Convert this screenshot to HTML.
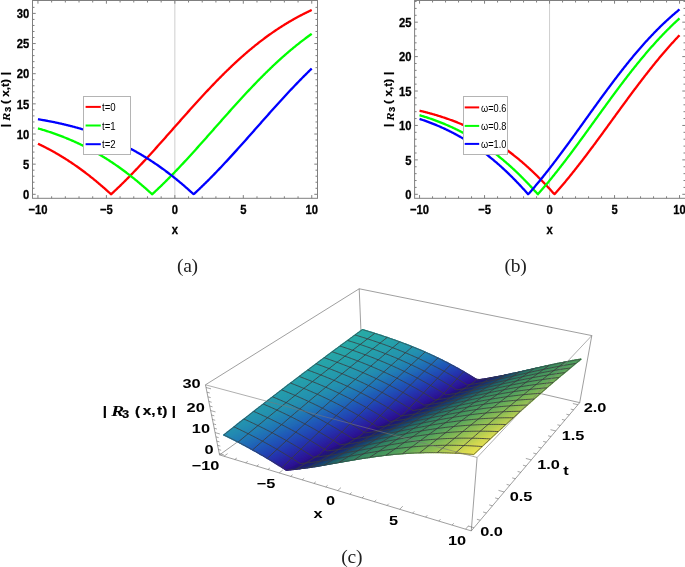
<!DOCTYPE html>
<html lang="en"><head><meta charset="utf-8"><title>Figure</title>
<style>html,body{margin:0;padding:0;background:#fff}body{width:685px;height:567px;overflow:hidden}</style></head>
<body>
<svg width="685" height="567" viewBox="0 0 685 567" style="display:block">
<rect width="685" height="567" fill="#fff"/>
<clipPath id="aclip"><rect x="32.50" y="0.50" width="285.00" height="197.80"/></clipPath>
<line x1="174.85" y1="0.50" x2="174.85" y2="198.30" stroke="#cfcfcf" stroke-width="1"/>
<path d="M37.95 143.73 L38.63 144.06 L39.32 144.38 L40.00 144.71 L40.69 145.04 L41.37 145.38 L42.06 145.72 L42.74 146.06 L43.43 146.40 L44.11 146.74 L44.79 147.09 L45.48 147.44 L46.16 147.79 L46.85 148.15 L47.53 148.51 L48.22 148.87 L48.90 149.23 L49.59 149.59 L50.27 149.96 L50.96 150.33 L51.64 150.71 L52.32 151.09 L53.01 151.46 L53.69 151.85 L54.38 152.23 L55.06 152.62 L55.75 153.01 L56.43 153.40 L57.12 153.80 L57.80 154.20 L58.48 154.60 L59.17 155.00 L59.85 155.41 L60.54 155.82 L61.22 156.24 L61.91 156.65 L62.59 157.07 L63.28 157.49 L63.96 157.92 L64.65 158.34 L65.33 158.77 L66.01 159.21 L66.70 159.64 L67.38 160.08 L68.07 160.53 L68.75 160.97 L69.44 161.42 L70.12 161.87 L70.81 162.32 L71.49 162.78 L72.17 163.24 L72.86 163.70 L73.54 164.17 L74.23 164.64 L74.91 165.11 L75.60 165.58 L76.28 166.06 L76.97 166.54 L77.65 167.02 L78.34 167.51 L79.02 168.00 L79.70 168.49 L80.39 168.99 L81.07 169.49 L81.76 169.99 L82.44 170.49 L83.13 171.00 L83.81 171.51 L84.50 172.03 L85.18 172.54 L85.86 173.06 L86.55 173.59 L87.23 174.11 L87.92 174.64 L88.60 175.17 L89.29 175.71 L89.97 176.25 L90.66 176.79 L91.34 177.33 L92.03 177.88 L92.71 178.43 L93.39 178.98 L94.08 179.54 L94.76 180.10 L95.45 180.66 L96.13 181.22 L96.82 181.79 L97.50 182.36 L98.19 182.93 L98.87 183.51 L99.55 184.09 L100.24 184.67 L100.92 185.26 L101.61 185.85 L102.29 186.44 L102.98 187.03 L103.66 187.63 L104.35 188.23 L105.03 188.83 L105.72 189.44 L106.40 190.05 L107.08 190.66 L107.77 191.27 L108.45 191.89 L109.14 192.51 L109.82 193.13 L110.51 193.76 L111.19 194.21 L111.88 193.58 L112.56 192.95 L113.25 192.31 L113.93 191.67 L114.61 191.03 L115.30 190.38 L115.98 189.74 L116.67 189.09 L117.35 188.43 L118.04 187.78 L118.72 187.12 L119.41 186.46 L120.09 185.80 L120.77 185.13 L121.46 184.46 L122.14 183.79 L122.83 183.12 L123.51 182.44 L124.20 181.77 L124.88 181.09 L125.57 180.40 L126.25 179.72 L126.94 179.03 L127.62 178.34 L128.30 177.65 L128.99 176.95 L129.67 176.26 L130.36 175.56 L131.04 174.86 L131.73 174.15 L132.41 173.45 L133.10 172.74 L133.78 172.03 L134.46 171.32 L135.15 170.61 L135.83 169.89 L136.52 169.17 L137.20 168.45 L137.89 167.73 L138.57 167.01 L139.26 166.28 L139.94 165.55 L140.62 164.82 L141.31 164.09 L141.99 163.36 L142.68 162.63 L143.36 161.89 L144.05 161.15 L144.73 160.41 L145.42 159.67 L146.10 158.93 L146.79 158.19 L147.47 157.44 L148.15 156.69 L148.84 155.95 L149.52 155.20 L150.21 154.44 L150.89 153.69 L151.58 152.94 L152.26 152.18 L152.95 151.43 L153.63 150.67 L154.31 149.91 L155.00 149.15 L155.68 148.39 L156.37 147.63 L157.05 146.87 L157.74 146.10 L158.42 145.34 L159.11 144.57 L159.79 143.81 L160.48 143.04 L161.16 142.27 L161.84 141.50 L162.53 140.73 L163.21 139.96 L163.90 139.19 L164.58 138.42 L165.27 137.65 L165.95 136.88 L166.64 136.10 L167.32 135.33 L168.00 134.56 L168.69 133.78 L169.37 133.01 L170.06 132.24 L170.74 131.46 L171.43 130.69 L172.11 129.91 L172.80 129.14 L173.48 128.36 L174.17 127.59 L174.85 126.81 L175.53 126.04 L176.22 125.26 L176.90 124.49 L177.59 123.71 L178.27 122.94 L178.96 122.16 L179.64 121.39 L180.33 120.62 L181.01 119.84 L181.69 119.07 L182.38 118.30 L183.06 117.53 L183.75 116.75 L184.43 115.98 L185.12 115.21 L185.80 114.44 L186.49 113.67 L187.17 112.91 L187.86 112.14 L188.54 111.37 L189.22 110.61 L189.91 109.84 L190.59 109.08 L191.28 108.32 L191.96 107.55 L192.65 106.79 L193.33 106.03 L194.02 105.27 L194.70 104.52 L195.38 103.76 L196.07 103.00 L196.75 102.25 L197.44 101.50 L198.12 100.75 L198.81 100.00 L199.49 99.25 L200.18 98.50 L200.86 97.75 L201.55 97.01 L202.23 96.27 L202.91 95.53 L203.60 94.79 L204.28 94.05 L204.97 93.31 L205.65 92.58 L206.34 91.84 L207.02 91.11 L207.71 90.38 L208.39 89.65 L209.07 88.93 L209.76 88.20 L210.44 87.48 L211.13 86.76 L211.81 86.04 L212.50 85.33 L213.18 84.61 L213.87 83.90 L214.55 83.19 L215.24 82.48 L215.92 81.78 L216.60 81.07 L217.29 80.37 L217.97 79.67 L218.66 78.97 L219.34 78.28 L220.03 77.59 L220.71 76.90 L221.40 76.21 L222.08 75.52 L222.76 74.84 L223.45 74.16 L224.13 73.48 L224.82 72.80 L225.50 72.13 L226.19 71.46 L226.87 70.79 L227.56 70.12 L228.24 69.46 L228.93 68.80 L229.61 68.14 L230.29 67.48 L230.98 66.83 L231.66 66.18 L232.35 65.53 L233.03 64.89 L233.72 64.24 L234.40 63.60 L235.09 62.97 L235.77 62.33 L236.45 61.70 L237.14 61.07 L237.82 60.45 L238.51 59.82 L239.19 59.20 L239.88 58.58 L240.56 57.97 L241.25 57.36 L241.93 56.75 L242.62 56.14 L243.30 55.54 L243.98 54.94 L244.67 54.34 L245.35 53.74 L246.04 53.15 L246.72 52.56 L247.41 51.97 L248.09 51.39 L248.78 50.81 L249.46 50.23 L250.14 49.66 L250.83 49.09 L251.51 48.52 L252.20 47.95 L252.88 47.39 L253.57 46.83 L254.25 46.27 L254.94 45.72 L255.62 45.17 L256.31 44.62 L256.99 44.08 L257.67 43.54 L258.36 43.00 L259.04 42.46 L259.73 41.93 L260.41 41.40 L261.10 40.87 L261.78 40.35 L262.47 39.83 L263.15 39.31 L263.83 38.80 L264.52 38.29 L265.20 37.78 L265.89 37.27 L266.57 36.77 L267.26 36.27 L267.94 35.77 L268.63 35.28 L269.31 34.79 L270.00 34.30 L270.68 33.82 L271.36 33.34 L272.05 32.86 L272.73 32.38 L273.42 31.91 L274.10 31.44 L274.79 30.97 L275.47 30.51 L276.16 30.05 L276.84 29.59 L277.52 29.14 L278.21 28.69 L278.89 28.24 L279.58 27.79 L280.26 27.35 L280.95 26.91 L281.63 26.47 L282.32 26.04 L283.00 25.61 L283.69 25.18 L284.37 24.75 L285.05 24.33 L285.74 23.91 L286.42 23.50 L287.11 23.08 L287.79 22.67 L288.48 22.26 L289.16 21.86 L289.85 21.46 L290.53 21.06 L291.21 20.66 L291.90 20.27 L292.58 19.87 L293.27 19.49 L293.95 19.10 L294.64 18.72 L295.32 18.34 L296.01 17.96 L296.69 17.59 L297.38 17.21 L298.06 16.84 L298.74 16.48 L299.43 16.11 L300.11 15.75 L300.80 15.39 L301.48 15.04 L302.17 14.69 L302.85 14.33 L303.54 13.99 L304.22 13.64 L304.90 13.30 L305.59 12.96 L306.27 12.62 L306.96 12.29 L307.64 11.95 L308.33 11.62 L309.01 11.30 L309.70 10.97 L310.38 10.65 L311.07 10.33 L311.75 10.01" fill="none" stroke="#ff0000" stroke-width="2.30" stroke-linejoin="round" stroke-linecap="butt" clip-path="url(#aclip)"/>
<path d="M37.95 128.38 L38.63 128.58 L39.32 128.77 L40.00 128.98 L40.69 129.18 L41.37 129.38 L42.06 129.59 L42.74 129.80 L43.43 130.01 L44.11 130.22 L44.79 130.43 L45.48 130.65 L46.16 130.86 L46.85 131.08 L47.53 131.30 L48.22 131.53 L48.90 131.75 L49.59 131.98 L50.27 132.21 L50.96 132.44 L51.64 132.67 L52.32 132.91 L53.01 133.14 L53.69 133.38 L54.38 133.62 L55.06 133.86 L55.75 134.11 L56.43 134.35 L57.12 134.60 L57.80 134.85 L58.48 135.11 L59.17 135.36 L59.85 135.62 L60.54 135.88 L61.22 136.14 L61.91 136.40 L62.59 136.67 L63.28 136.94 L63.96 137.21 L64.65 137.48 L65.33 137.75 L66.01 138.03 L66.70 138.31 L67.38 138.59 L68.07 138.87 L68.75 139.16 L69.44 139.45 L70.12 139.74 L70.81 140.03 L71.49 140.33 L72.17 140.62 L72.86 140.92 L73.54 141.23 L74.23 141.53 L74.91 141.84 L75.60 142.15 L76.28 142.46 L76.97 142.77 L77.65 143.09 L78.34 143.41 L79.02 143.73 L79.70 144.06 L80.39 144.38 L81.07 144.71 L81.76 145.04 L82.44 145.38 L83.13 145.72 L83.81 146.06 L84.50 146.40 L85.18 146.74 L85.86 147.09 L86.55 147.44 L87.23 147.79 L87.92 148.15 L88.60 148.51 L89.29 148.87 L89.97 149.23 L90.66 149.59 L91.34 149.96 L92.03 150.33 L92.71 150.71 L93.39 151.09 L94.08 151.46 L94.76 151.85 L95.45 152.23 L96.13 152.62 L96.82 153.01 L97.50 153.40 L98.19 153.80 L98.87 154.20 L99.55 154.60 L100.24 155.00 L100.92 155.41 L101.61 155.82 L102.29 156.24 L102.98 156.65 L103.66 157.07 L104.35 157.49 L105.03 157.92 L105.72 158.34 L106.40 158.77 L107.08 159.21 L107.77 159.64 L108.45 160.08 L109.14 160.53 L109.82 160.97 L110.51 161.42 L111.19 161.87 L111.88 162.32 L112.56 162.78 L113.25 163.24 L113.93 163.70 L114.61 164.17 L115.30 164.64 L115.98 165.11 L116.67 165.58 L117.35 166.06 L118.04 166.54 L118.72 167.02 L119.41 167.51 L120.09 168.00 L120.77 168.49 L121.46 168.99 L122.14 169.49 L122.83 169.99 L123.51 170.49 L124.20 171.00 L124.88 171.51 L125.57 172.03 L126.25 172.54 L126.94 173.06 L127.62 173.59 L128.30 174.11 L128.99 174.64 L129.67 175.17 L130.36 175.71 L131.04 176.25 L131.73 176.79 L132.41 177.33 L133.10 177.88 L133.78 178.43 L134.46 178.98 L135.15 179.54 L135.83 180.10 L136.52 180.66 L137.20 181.22 L137.89 181.79 L138.57 182.36 L139.26 182.93 L139.94 183.51 L140.62 184.09 L141.31 184.67 L141.99 185.26 L142.68 185.85 L143.36 186.44 L144.05 187.03 L144.73 187.63 L145.42 188.23 L146.10 188.83 L146.79 189.44 L147.47 190.05 L148.15 190.66 L148.84 191.27 L149.52 191.89 L150.21 192.51 L150.89 193.13 L151.58 193.76 L152.26 194.21 L152.95 193.58 L153.63 192.95 L154.31 192.31 L155.00 191.67 L155.68 191.03 L156.37 190.38 L157.05 189.74 L157.74 189.09 L158.42 188.43 L159.11 187.78 L159.79 187.12 L160.48 186.46 L161.16 185.80 L161.84 185.13 L162.53 184.46 L163.21 183.79 L163.90 183.12 L164.58 182.44 L165.27 181.77 L165.95 181.09 L166.64 180.40 L167.32 179.72 L168.00 179.03 L168.69 178.34 L169.37 177.65 L170.06 176.95 L170.74 176.26 L171.43 175.56 L172.11 174.86 L172.80 174.15 L173.48 173.45 L174.17 172.74 L174.85 172.03 L175.53 171.32 L176.22 170.61 L176.90 169.89 L177.59 169.17 L178.27 168.45 L178.96 167.73 L179.64 167.01 L180.33 166.28 L181.01 165.55 L181.69 164.82 L182.38 164.09 L183.06 163.36 L183.75 162.63 L184.43 161.89 L185.12 161.15 L185.80 160.41 L186.49 159.67 L187.17 158.93 L187.86 158.19 L188.54 157.44 L189.22 156.69 L189.91 155.95 L190.59 155.20 L191.28 154.44 L191.96 153.69 L192.65 152.94 L193.33 152.18 L194.02 151.43 L194.70 150.67 L195.38 149.91 L196.07 149.15 L196.75 148.39 L197.44 147.63 L198.12 146.87 L198.81 146.10 L199.49 145.34 L200.18 144.57 L200.86 143.81 L201.55 143.04 L202.23 142.27 L202.91 141.50 L203.60 140.73 L204.28 139.96 L204.97 139.19 L205.65 138.42 L206.34 137.65 L207.02 136.88 L207.71 136.10 L208.39 135.33 L209.07 134.56 L209.76 133.78 L210.44 133.01 L211.13 132.24 L211.81 131.46 L212.50 130.69 L213.18 129.91 L213.87 129.14 L214.55 128.36 L215.24 127.59 L215.92 126.81 L216.60 126.04 L217.29 125.26 L217.97 124.49 L218.66 123.71 L219.34 122.94 L220.03 122.16 L220.71 121.39 L221.40 120.62 L222.08 119.84 L222.76 119.07 L223.45 118.30 L224.13 117.53 L224.82 116.75 L225.50 115.98 L226.19 115.21 L226.87 114.44 L227.56 113.67 L228.24 112.91 L228.93 112.14 L229.61 111.37 L230.29 110.61 L230.98 109.84 L231.66 109.08 L232.35 108.32 L233.03 107.55 L233.72 106.79 L234.40 106.03 L235.09 105.27 L235.77 104.52 L236.45 103.76 L237.14 103.00 L237.82 102.25 L238.51 101.50 L239.19 100.75 L239.88 100.00 L240.56 99.25 L241.25 98.50 L241.93 97.75 L242.62 97.01 L243.30 96.27 L243.98 95.53 L244.67 94.79 L245.35 94.05 L246.04 93.31 L246.72 92.58 L247.41 91.84 L248.09 91.11 L248.78 90.38 L249.46 89.65 L250.14 88.93 L250.83 88.20 L251.51 87.48 L252.20 86.76 L252.88 86.04 L253.57 85.33 L254.25 84.61 L254.94 83.90 L255.62 83.19 L256.31 82.48 L256.99 81.78 L257.67 81.07 L258.36 80.37 L259.04 79.67 L259.73 78.97 L260.41 78.28 L261.10 77.59 L261.78 76.90 L262.47 76.21 L263.15 75.52 L263.83 74.84 L264.52 74.16 L265.20 73.48 L265.89 72.80 L266.57 72.13 L267.26 71.46 L267.94 70.79 L268.63 70.12 L269.31 69.46 L270.00 68.80 L270.68 68.14 L271.36 67.48 L272.05 66.83 L272.73 66.18 L273.42 65.53 L274.10 64.89 L274.79 64.24 L275.47 63.60 L276.16 62.97 L276.84 62.33 L277.52 61.70 L278.21 61.07 L278.89 60.45 L279.58 59.82 L280.26 59.20 L280.95 58.58 L281.63 57.97 L282.32 57.36 L283.00 56.75 L283.69 56.14 L284.37 55.54 L285.05 54.94 L285.74 54.34 L286.42 53.74 L287.11 53.15 L287.79 52.56 L288.48 51.97 L289.16 51.39 L289.85 50.81 L290.53 50.23 L291.21 49.66 L291.90 49.09 L292.58 48.52 L293.27 47.95 L293.95 47.39 L294.64 46.83 L295.32 46.27 L296.01 45.72 L296.69 45.17 L297.38 44.62 L298.06 44.08 L298.74 43.54 L299.43 43.00 L300.11 42.46 L300.80 41.93 L301.48 41.40 L302.17 40.87 L302.85 40.35 L303.54 39.83 L304.22 39.31 L304.90 38.80 L305.59 38.29 L306.27 37.78 L306.96 37.27 L307.64 36.77 L308.33 36.27 L309.01 35.77 L309.70 35.28 L310.38 34.79 L311.07 34.30 L311.75 33.82" fill="none" stroke="#00ff00" stroke-width="2.30" stroke-linejoin="round" stroke-linecap="butt" clip-path="url(#aclip)"/>
<path d="M37.95 119.19 L38.63 119.30 L39.32 119.41 L40.00 119.53 L40.69 119.65 L41.37 119.77 L42.06 119.89 L42.74 120.01 L43.43 120.13 L44.11 120.25 L44.79 120.37 L45.48 120.50 L46.16 120.63 L46.85 120.75 L47.53 120.88 L48.22 121.01 L48.90 121.14 L49.59 121.28 L50.27 121.41 L50.96 121.54 L51.64 121.68 L52.32 121.82 L53.01 121.95 L53.69 122.09 L54.38 122.24 L55.06 122.38 L55.75 122.52 L56.43 122.67 L57.12 122.81 L57.80 122.96 L58.48 123.11 L59.17 123.26 L59.85 123.41 L60.54 123.56 L61.22 123.72 L61.91 123.87 L62.59 124.03 L63.28 124.19 L63.96 124.35 L64.65 124.51 L65.33 124.68 L66.01 124.84 L66.70 125.01 L67.38 125.17 L68.07 125.34 L68.75 125.51 L69.44 125.68 L70.12 125.86 L70.81 126.03 L71.49 126.21 L72.17 126.39 L72.86 126.57 L73.54 126.75 L74.23 126.93 L74.91 127.12 L75.60 127.30 L76.28 127.49 L76.97 127.68 L77.65 127.87 L78.34 128.07 L79.02 128.26 L79.70 128.46 L80.39 128.66 L81.07 128.86 L81.76 129.06 L82.44 129.26 L83.13 129.47 L83.81 129.67 L84.50 129.88 L85.18 130.09 L85.86 130.30 L86.55 130.52 L87.23 130.73 L87.92 130.95 L88.60 131.17 L89.29 131.39 L89.97 131.62 L90.66 131.84 L91.34 132.07 L92.03 132.30 L92.71 132.53 L93.39 132.76 L94.08 133.00 L94.76 133.24 L95.45 133.48 L96.13 133.72 L96.82 133.96 L97.50 134.21 L98.19 134.45 L98.87 134.70 L99.55 134.95 L100.24 135.21 L100.92 135.46 L101.61 135.72 L102.29 135.98 L102.98 136.24 L103.66 136.51 L104.35 136.78 L105.03 137.04 L105.72 137.32 L106.40 137.59 L107.08 137.86 L107.77 138.14 L108.45 138.42 L109.14 138.70 L109.82 138.99 L110.51 139.28 L111.19 139.56 L111.88 139.86 L112.56 140.15 L113.25 140.45 L113.93 140.74 L114.61 141.05 L115.30 141.35 L115.98 141.65 L116.67 141.96 L117.35 142.27 L118.04 142.59 L118.72 142.90 L119.41 143.22 L120.09 143.54 L120.77 143.86 L121.46 144.19 L122.14 144.51 L122.83 144.85 L123.51 145.18 L124.20 145.51 L124.88 145.85 L125.57 146.19 L126.25 146.54 L126.94 146.88 L127.62 147.23 L128.30 147.58 L128.99 147.93 L129.67 148.29 L130.36 148.65 L131.04 149.01 L131.73 149.37 L132.41 149.74 L133.10 150.11 L133.78 150.48 L134.46 150.86 L135.15 151.24 L135.83 151.62 L136.52 152.00 L137.20 152.39 L137.89 152.78 L138.57 153.17 L139.26 153.56 L139.94 153.96 L140.62 154.36 L141.31 154.76 L141.99 155.17 L142.68 155.58 L143.36 155.99 L144.05 156.40 L144.73 156.82 L145.42 157.24 L146.10 157.66 L146.79 158.09 L147.47 158.52 L148.15 158.95 L148.84 159.38 L149.52 159.82 L150.21 160.26 L150.89 160.70 L151.58 161.15 L152.26 161.60 L152.95 162.05 L153.63 162.51 L154.31 162.96 L155.00 163.42 L155.68 163.89 L156.37 164.35 L157.05 164.82 L157.74 165.30 L158.42 165.77 L159.11 166.25 L159.79 166.73 L160.48 167.22 L161.16 167.71 L161.84 168.20 L162.53 168.69 L163.21 169.19 L163.90 169.69 L164.58 170.19 L165.27 170.70 L165.95 171.21 L166.64 171.72 L167.32 172.23 L168.00 172.75 L168.69 173.27 L169.37 173.80 L170.06 174.32 L170.74 174.85 L171.43 175.39 L172.11 175.92 L172.80 176.46 L173.48 177.00 L174.17 177.55 L174.85 178.10 L175.53 178.65 L176.22 179.20 L176.90 179.76 L177.59 180.32 L178.27 180.88 L178.96 181.45 L179.64 182.02 L180.33 182.59 L181.01 183.16 L181.69 183.74 L182.38 184.32 L183.06 184.91 L183.75 185.49 L184.43 186.08 L185.12 186.68 L185.80 187.27 L186.49 187.87 L187.17 188.47 L187.86 189.08 L188.54 189.68 L189.22 190.29 L189.91 190.91 L190.59 191.52 L191.28 192.14 L191.96 192.76 L192.65 193.38 L193.33 194.01 L194.02 193.96 L194.70 193.33 L195.38 192.69 L196.07 192.05 L196.75 191.41 L197.44 190.77 L198.12 190.13 L198.81 189.48 L199.49 188.83 L200.18 188.17 L200.86 187.52 L201.55 186.86 L202.23 186.20 L202.91 185.53 L203.60 184.86 L204.28 184.20 L204.97 183.52 L205.65 182.85 L206.34 182.17 L207.02 181.49 L207.71 180.81 L208.39 180.13 L209.07 179.44 L209.76 178.75 L210.44 178.06 L211.13 177.37 L211.81 176.68 L212.50 175.98 L213.18 175.28 L213.87 174.58 L214.55 173.87 L215.24 173.17 L215.92 172.46 L216.60 171.75 L217.29 171.03 L217.97 170.32 L218.66 169.60 L219.34 168.88 L220.03 168.16 L220.71 167.44 L221.40 166.72 L222.08 165.99 L222.76 165.26 L223.45 164.53 L224.13 163.80 L224.82 163.07 L225.50 162.33 L226.19 161.60 L226.87 160.86 L227.56 160.12 L228.24 159.38 L228.93 158.63 L229.61 157.89 L230.29 157.14 L230.98 156.39 L231.66 155.65 L232.35 154.89 L233.03 154.14 L233.72 153.39 L234.40 152.64 L235.09 151.88 L235.77 151.12 L236.45 150.37 L237.14 149.61 L237.82 148.85 L238.51 148.09 L239.19 147.32 L239.88 146.56 L240.56 145.80 L241.25 145.03 L241.93 144.27 L242.62 143.50 L243.30 142.73 L243.98 141.96 L244.67 141.19 L245.35 140.42 L246.04 139.65 L246.72 138.88 L247.41 138.11 L248.09 137.34 L248.78 136.57 L249.46 135.80 L250.14 135.02 L250.83 134.25 L251.51 133.47 L252.20 132.70 L252.88 131.93 L253.57 131.15 L254.25 130.38 L254.94 129.60 L255.62 128.83 L256.31 128.05 L256.99 127.28 L257.67 126.50 L258.36 125.73 L259.04 124.95 L259.73 124.18 L260.41 123.40 L261.10 122.63 L261.78 121.85 L262.47 121.08 L263.15 120.31 L263.83 119.53 L264.52 118.76 L265.20 117.99 L265.89 117.22 L266.57 116.45 L267.26 115.68 L267.94 114.91 L268.63 114.14 L269.31 113.37 L270.00 112.60 L270.68 111.83 L271.36 111.07 L272.05 110.30 L272.73 109.54 L273.42 108.77 L274.10 108.01 L274.79 107.25 L275.47 106.49 L276.16 105.73 L276.84 104.97 L277.52 104.21 L278.21 103.46 L278.89 102.70 L279.58 101.95 L280.26 101.20 L280.95 100.45 L281.63 99.70 L282.32 98.95 L283.00 98.20 L283.69 97.46 L284.37 96.71 L285.05 95.97 L285.74 95.23 L286.42 94.49 L287.11 93.75 L287.79 93.02 L288.48 92.28 L289.16 91.55 L289.85 90.82 L290.53 90.09 L291.21 89.36 L291.90 88.64 L292.58 87.92 L293.27 87.19 L293.95 86.47 L294.64 85.76 L295.32 85.04 L296.01 84.33 L296.69 83.62 L297.38 82.91 L298.06 82.20 L298.74 81.49 L299.43 80.79 L300.11 80.09 L300.80 79.39 L301.48 78.70 L302.17 78.00 L302.85 77.31 L303.54 76.62 L304.22 75.93 L304.90 75.25 L305.59 74.57 L306.27 73.89 L306.96 73.21 L307.64 72.53 L308.33 71.86 L309.01 71.19 L309.70 70.52 L310.38 69.86 L311.07 69.20 L311.75 68.54" fill="none" stroke="#0000ff" stroke-width="2.30" stroke-linejoin="round" stroke-linecap="butt" clip-path="url(#aclip)"/>
<rect x="32.50" y="0.50" width="285.00" height="197.80" fill="none" stroke="#7f7f7f" stroke-width="1"/>
<path d="M37.95 198.30v-3.20M37.95 0.50v3.20M51.64 198.30v-2.00M51.64 0.50v2.00M65.33 198.30v-2.00M65.33 0.50v2.00M79.02 198.30v-2.00M79.02 0.50v2.00M92.71 198.30v-2.00M92.71 0.50v2.00M106.40 198.30v-3.20M106.40 0.50v3.20M120.09 198.30v-2.00M120.09 0.50v2.00M133.78 198.30v-2.00M133.78 0.50v2.00M147.47 198.30v-2.00M147.47 0.50v2.00M161.16 198.30v-2.00M161.16 0.50v2.00M174.85 198.30v-3.20M174.85 0.50v3.20M188.54 198.30v-2.00M188.54 0.50v2.00M202.23 198.30v-2.00M202.23 0.50v2.00M215.92 198.30v-2.00M215.92 0.50v2.00M229.61 198.30v-2.00M229.61 0.50v2.00M243.30 198.30v-3.20M243.30 0.50v3.20M256.99 198.30v-2.00M256.99 0.50v2.00M270.68 198.30v-2.00M270.68 0.50v2.00M284.37 198.30v-2.00M284.37 0.50v2.00M298.06 198.30v-2.00M298.06 0.50v2.00M311.75 198.30v-3.20M311.75 0.50v3.20M32.50 194.30h3.20M317.50 194.30h-3.20M32.50 188.27h2.00M317.50 188.27h-2.00M32.50 182.24h2.00M317.50 182.24h-2.00M32.50 176.21h2.00M317.50 176.21h-2.00M32.50 170.18h2.00M317.50 170.18h-2.00M32.50 164.15h3.20M317.50 164.15h-3.20M32.50 158.12h2.00M317.50 158.12h-2.00M32.50 152.09h2.00M317.50 152.09h-2.00M32.50 146.06h2.00M317.50 146.06h-2.00M32.50 140.03h2.00M317.50 140.03h-2.00M32.50 134.00h3.20M317.50 134.00h-3.20M32.50 127.97h2.00M317.50 127.97h-2.00M32.50 121.94h2.00M317.50 121.94h-2.00M32.50 115.91h2.00M317.50 115.91h-2.00M32.50 109.88h2.00M317.50 109.88h-2.00M32.50 103.85h3.20M317.50 103.85h-3.20M32.50 97.82h2.00M317.50 97.82h-2.00M32.50 91.79h2.00M317.50 91.79h-2.00M32.50 85.76h2.00M317.50 85.76h-2.00M32.50 79.73h2.00M317.50 79.73h-2.00M32.50 73.70h3.20M317.50 73.70h-3.20M32.50 67.67h2.00M317.50 67.67h-2.00M32.50 61.64h2.00M317.50 61.64h-2.00M32.50 55.61h2.00M317.50 55.61h-2.00M32.50 49.58h2.00M317.50 49.58h-2.00M32.50 43.55h3.20M317.50 43.55h-3.20M32.50 37.52h2.00M317.50 37.52h-2.00M32.50 31.49h2.00M317.50 31.49h-2.00M32.50 25.46h2.00M317.50 25.46h-2.00M32.50 19.43h2.00M317.50 19.43h-2.00M32.50 13.40h3.20M317.50 13.40h-3.20M32.50 7.37h2.00M317.50 7.37h-2.00" stroke="#7f7f7f" stroke-width="1" fill="none"/>
<text transform="translate(37.95 213.60) scale(0.860 1)" font-family='"Liberation Sans", sans-serif' font-weight="bold" font-size="13.10" text-anchor="middle" fill="#000" stroke="#000" stroke-width="0.3">−10</text>
<text transform="translate(106.40 213.60) scale(0.860 1)" font-family='"Liberation Sans", sans-serif' font-weight="bold" font-size="13.10" text-anchor="middle" fill="#000" stroke="#000" stroke-width="0.3">−5</text>
<text transform="translate(174.85 213.60) scale(0.860 1)" font-family='"Liberation Sans", sans-serif' font-weight="bold" font-size="13.10" text-anchor="middle" fill="#000" stroke="#000" stroke-width="0.3">0</text>
<text transform="translate(243.30 213.60) scale(0.860 1)" font-family='"Liberation Sans", sans-serif' font-weight="bold" font-size="13.10" text-anchor="middle" fill="#000" stroke="#000" stroke-width="0.3">5</text>
<text transform="translate(311.75 213.60) scale(0.860 1)" font-family='"Liberation Sans", sans-serif' font-weight="bold" font-size="13.10" text-anchor="middle" fill="#000" stroke="#000" stroke-width="0.3">10</text>
<text transform="translate(29.30 198.99) scale(0.860 1)" font-family='"Liberation Sans", sans-serif' font-weight="bold" font-size="13.10" text-anchor="end" fill="#000" stroke="#000" stroke-width="0.3">0</text>
<text transform="translate(29.30 168.84) scale(0.860 1)" font-family='"Liberation Sans", sans-serif' font-weight="bold" font-size="13.10" text-anchor="end" fill="#000" stroke="#000" stroke-width="0.3">5</text>
<text transform="translate(29.30 138.69) scale(0.860 1)" font-family='"Liberation Sans", sans-serif' font-weight="bold" font-size="13.10" text-anchor="end" fill="#000" stroke="#000" stroke-width="0.3">10</text>
<text transform="translate(29.30 108.54) scale(0.860 1)" font-family='"Liberation Sans", sans-serif' font-weight="bold" font-size="13.10" text-anchor="end" fill="#000" stroke="#000" stroke-width="0.3">15</text>
<text transform="translate(29.30 78.39) scale(0.860 1)" font-family='"Liberation Sans", sans-serif' font-weight="bold" font-size="13.10" text-anchor="end" fill="#000" stroke="#000" stroke-width="0.3">20</text>
<text transform="translate(29.30 48.24) scale(0.860 1)" font-family='"Liberation Sans", sans-serif' font-weight="bold" font-size="13.10" text-anchor="end" fill="#000" stroke="#000" stroke-width="0.3">25</text>
<text transform="translate(29.30 18.09) scale(0.860 1)" font-family='"Liberation Sans", sans-serif' font-weight="bold" font-size="13.10" text-anchor="end" fill="#000" stroke="#000" stroke-width="0.3">30</text>
<text transform="translate(174.85 234.20) scale(0.860 1)" font-family='"Liberation Sans", sans-serif' font-weight="bold" font-size="13.10" text-anchor="middle" fill="#000" stroke="#000" stroke-width="0.3">x</text>
<g transform="translate(9.00 125.50) rotate(-90) scale(1 0.87)"><text font-family='"Liberation Sans", sans-serif' font-weight="bold" font-size="11.70" fill="#000" stroke="#000" stroke-width="0.2"><tspan x="-1.64">|</tspan><tspan x="13.4" dy="2.6" font-size="9.4">3</tspan><tspan x="21.4" dy="-2.6">(</tspan><tspan x="28.8">x,</tspan><tspan x="38.6">t)</tspan><tspan x="50.26">|</tspan></text><text x="4.6" y="1.4" font-family='"Liberation Serif", "DejaVu Serif", serif' font-weight="bold" font-style="italic" font-size="12.4" fill="#000">R</text></g>
<rect x="83.50" y="96.50" width="47.00" height="58.00" fill="#fff" stroke="#b4b4b4" stroke-width="1"/>
<line x1="85.60" y1="106.90" x2="100.80" y2="106.90" stroke="#ff0000" stroke-width="2"/>
<text transform="translate(102.00 111.00) scale(0.840 1)" font-family='"Liberation Sans", sans-serif' font-weight="normal" font-size="11.50" text-anchor="start" fill="#000" stroke="#000" stroke-width="0">t=0</text>
<line x1="85.60" y1="125.50" x2="100.80" y2="125.50" stroke="#00ff00" stroke-width="2"/>
<text transform="translate(102.00 129.60) scale(0.840 1)" font-family='"Liberation Sans", sans-serif' font-weight="normal" font-size="11.50" text-anchor="start" fill="#000" stroke="#000" stroke-width="0">t=1</text>
<line x1="85.60" y1="144.20" x2="100.80" y2="144.20" stroke="#0000ff" stroke-width="2"/>
<text transform="translate(102.00 148.30) scale(0.840 1)" font-family='"Liberation Sans", sans-serif' font-weight="normal" font-size="11.50" text-anchor="start" fill="#000" stroke="#000" stroke-width="0">t=2</text>
<clipPath id="bclip"><rect x="414.60" y="0.50" width="270.90" height="197.80"/></clipPath>
<line x1="549.55" y1="0.50" x2="549.55" y2="198.30" stroke="#cfcfcf" stroke-width="1"/>
<path d="M419.55 110.70 L420.20 110.85 L420.85 111.01 L421.50 111.16 L422.15 111.32 L422.80 111.48 L423.45 111.64 L424.10 111.81 L424.75 111.97 L425.40 112.14 L426.05 112.31 L426.70 112.47 L427.35 112.65 L428.00 112.82 L428.65 112.99 L429.30 113.17 L429.95 113.34 L430.60 113.52 L431.25 113.70 L431.90 113.89 L432.55 114.07 L433.20 114.26 L433.85 114.44 L434.50 114.63 L435.15 114.82 L435.80 115.01 L436.45 115.21 L437.10 115.40 L437.75 115.60 L438.40 115.80 L439.05 116.00 L439.70 116.21 L440.35 116.41 L441.00 116.62 L441.65 116.83 L442.30 117.04 L442.95 117.25 L443.60 117.47 L444.25 117.68 L444.90 117.90 L445.55 118.12 L446.20 118.34 L446.85 118.57 L447.50 118.80 L448.15 119.02 L448.80 119.25 L449.45 119.49 L450.10 119.72 L450.75 119.96 L451.40 120.20 L452.05 120.44 L452.70 120.68 L453.35 120.93 L454.00 121.17 L454.65 121.42 L455.30 121.68 L455.95 121.93 L456.60 122.19 L457.25 122.44 L457.90 122.70 L458.55 122.97 L459.20 123.23 L459.85 123.50 L460.50 123.77 L461.15 124.04 L461.80 124.32 L462.45 124.59 L463.10 124.87 L463.75 125.16 L464.40 125.44 L465.05 125.73 L465.70 126.02 L466.35 126.31 L467.00 126.60 L467.65 126.90 L468.30 127.20 L468.95 127.50 L469.60 127.80 L470.25 128.11 L470.90 128.42 L471.55 128.73 L472.20 129.04 L472.85 129.36 L473.50 129.68 L474.15 130.00 L474.80 130.33 L475.45 130.66 L476.10 130.99 L476.75 131.32 L477.40 131.66 L478.05 131.99 L478.70 132.34 L479.35 132.68 L480.00 133.03 L480.65 133.38 L481.30 133.73 L481.95 134.08 L482.60 134.44 L483.25 134.80 L483.90 135.17 L484.55 135.54 L485.20 135.91 L485.85 136.28 L486.50 136.65 L487.15 137.03 L487.80 137.41 L488.45 137.80 L489.10 138.19 L489.75 138.58 L490.40 138.97 L491.05 139.37 L491.70 139.77 L492.35 140.17 L493.00 140.58 L493.65 140.99 L494.30 141.40 L494.95 141.81 L495.60 142.23 L496.25 142.65 L496.90 143.08 L497.55 143.51 L498.20 143.94 L498.85 144.37 L499.50 144.81 L500.15 145.25 L500.80 145.69 L501.45 146.14 L502.10 146.59 L502.75 147.05 L503.40 147.50 L504.05 147.96 L504.70 148.43 L505.35 148.90 L506.00 149.37 L506.65 149.84 L507.30 150.32 L507.95 150.80 L508.60 151.28 L509.25 151.77 L509.90 152.26 L510.55 152.75 L511.20 153.25 L511.85 153.75 L512.50 154.26 L513.15 154.77 L513.80 155.28 L514.45 155.79 L515.10 156.31 L515.75 156.83 L516.40 157.36 L517.05 157.89 L517.70 158.42 L518.35 158.95 L519.00 159.49 L519.65 160.04 L520.30 160.58 L520.95 161.13 L521.60 161.69 L522.25 162.24 L522.90 162.80 L523.55 163.37 L524.20 163.93 L524.85 164.51 L525.50 165.08 L526.15 165.66 L526.80 166.24 L527.45 166.83 L528.10 167.41 L528.75 168.01 L529.40 168.60 L530.05 169.20 L530.70 169.81 L531.35 170.41 L532.00 171.02 L532.65 171.64 L533.30 172.25 L533.95 172.87 L534.60 173.50 L535.25 174.13 L535.90 174.76 L536.55 175.39 L537.20 176.03 L537.85 176.67 L538.50 177.32 L539.15 177.97 L539.80 178.62 L540.45 179.28 L541.10 179.94 L541.75 180.60 L542.40 181.27 L543.05 181.94 L543.70 182.61 L544.35 183.29 L545.00 183.97 L545.65 184.65 L546.30 185.34 L546.95 186.03 L547.60 186.72 L548.25 187.42 L548.90 188.12 L549.55 188.83 L550.20 189.53 L550.85 190.24 L551.50 190.96 L552.15 191.68 L552.80 192.40 L553.45 193.12 L554.10 193.85 L554.75 194.02 L555.40 193.29 L556.05 192.55 L556.70 191.81 L557.35 191.07 L558.00 190.32 L558.65 189.57 L559.30 188.82 L559.95 188.06 L560.60 187.30 L561.25 186.54 L561.90 185.78 L562.55 185.01 L563.20 184.24 L563.85 183.46 L564.50 182.69 L565.15 181.91 L565.80 181.13 L566.45 180.34 L567.10 179.55 L567.75 178.76 L568.40 177.97 L569.05 177.17 L569.70 176.37 L570.35 175.57 L571.00 174.76 L571.65 173.96 L572.30 173.15 L572.95 172.33 L573.60 171.52 L574.25 170.70 L574.90 169.88 L575.55 169.06 L576.20 168.23 L576.85 167.41 L577.50 166.58 L578.15 165.75 L578.80 164.91 L579.45 164.08 L580.10 163.24 L580.75 162.40 L581.40 161.55 L582.05 160.71 L582.70 159.86 L583.35 159.01 L584.00 158.16 L584.65 157.31 L585.30 156.46 L585.95 155.60 L586.60 154.74 L587.25 153.88 L587.90 153.02 L588.55 152.15 L589.20 151.29 L589.85 150.42 L590.50 149.55 L591.15 148.68 L591.80 147.81 L592.45 146.94 L593.10 146.07 L593.75 145.19 L594.40 144.31 L595.05 143.44 L595.70 142.56 L596.35 141.68 L597.00 140.79 L597.65 139.91 L598.30 139.03 L598.95 138.14 L599.60 137.26 L600.25 136.37 L600.90 135.48 L601.55 134.59 L602.20 133.70 L602.85 132.82 L603.50 131.92 L604.15 131.03 L604.80 130.14 L605.45 129.25 L606.10 128.36 L606.75 127.46 L607.40 126.57 L608.05 125.68 L608.70 124.78 L609.35 123.89 L610.00 122.99 L610.65 122.10 L611.30 121.20 L611.95 120.31 L612.60 119.41 L613.25 118.52 L613.90 117.62 L614.55 116.73 L615.20 115.83 L615.85 114.94 L616.50 114.04 L617.15 113.15 L617.80 112.26 L618.45 111.36 L619.10 110.47 L619.75 109.58 L620.40 108.69 L621.05 107.80 L621.70 106.91 L622.35 106.02 L623.00 105.13 L623.65 104.24 L624.30 103.35 L624.95 102.47 L625.60 101.58 L626.25 100.70 L626.90 99.81 L627.55 98.93 L628.20 98.05 L628.85 97.17 L629.50 96.29 L630.15 95.41 L630.80 94.54 L631.45 93.66 L632.10 92.79 L632.75 91.92 L633.40 91.05 L634.05 90.18 L634.70 89.31 L635.35 88.44 L636.00 87.58 L636.65 86.72 L637.30 85.85 L637.95 85.00 L638.60 84.14 L639.25 83.28 L639.90 82.43 L640.55 81.58 L641.20 80.73 L641.85 79.88 L642.50 79.03 L643.15 78.19 L643.80 77.35 L644.45 76.51 L645.10 75.67 L645.75 74.83 L646.40 74.00 L647.05 73.17 L647.70 72.34 L648.35 71.52 L649.00 70.69 L649.65 69.87 L650.30 69.05 L650.95 68.24 L651.60 67.42 L652.25 66.61 L652.90 65.80 L653.55 65.00 L654.20 64.19 L654.85 63.39 L655.50 62.59 L656.15 61.80 L656.80 61.01 L657.45 60.22 L658.10 59.43 L658.75 58.64 L659.40 57.86 L660.05 57.09 L660.70 56.31 L661.35 55.54 L662.00 54.77 L662.65 54.00 L663.30 53.24 L663.95 52.48 L664.60 51.72 L665.25 50.96 L665.90 50.21 L666.55 49.46 L667.20 48.72 L667.85 47.98 L668.50 47.24 L669.15 46.50 L669.80 45.77 L670.45 45.04 L671.10 44.32 L671.75 43.59 L672.40 42.87 L673.05 42.16 L673.70 41.45 L674.35 40.74 L675.00 40.03 L675.65 39.33 L676.30 38.63 L676.95 37.93 L677.60 37.24 L678.25 36.55 L678.90 35.86 L679.55 35.18" fill="none" stroke="#ff0000" stroke-width="2.30" stroke-linejoin="round" stroke-linecap="butt" clip-path="url(#bclip)"/>
<path d="M419.55 115.20 L420.20 115.39 L420.85 115.59 L421.50 115.78 L422.15 115.98 L422.80 116.18 L423.45 116.38 L424.10 116.59 L424.75 116.79 L425.40 117.00 L426.05 117.21 L426.70 117.42 L427.35 117.63 L428.00 117.85 L428.65 118.07 L429.30 118.28 L429.95 118.51 L430.60 118.73 L431.25 118.95 L431.90 119.18 L432.55 119.41 L433.20 119.64 L433.85 119.87 L434.50 120.11 L435.15 120.35 L435.80 120.59 L436.45 120.83 L437.10 121.07 L437.75 121.32 L438.40 121.57 L439.05 121.82 L439.70 122.07 L440.35 122.33 L441.00 122.58 L441.65 122.84 L442.30 123.11 L442.95 123.37 L443.60 123.64 L444.25 123.91 L444.90 124.18 L445.55 124.45 L446.20 124.73 L446.85 125.00 L447.50 125.29 L448.15 125.57 L448.80 125.85 L449.45 126.14 L450.10 126.43 L450.75 126.73 L451.40 127.02 L452.05 127.32 L452.70 127.62 L453.35 127.93 L454.00 128.23 L454.65 128.54 L455.30 128.85 L455.95 129.17 L456.60 129.48 L457.25 129.80 L457.90 130.12 L458.55 130.45 L459.20 130.77 L459.85 131.10 L460.50 131.44 L461.15 131.77 L461.80 132.11 L462.45 132.45 L463.10 132.80 L463.75 133.14 L464.40 133.49 L465.05 133.85 L465.70 134.20 L466.35 134.56 L467.00 134.92 L467.65 135.28 L468.30 135.65 L468.95 136.02 L469.60 136.39 L470.25 136.77 L470.90 137.15 L471.55 137.53 L472.20 137.92 L472.85 138.30 L473.50 138.70 L474.15 139.09 L474.80 139.49 L475.45 139.89 L476.10 140.29 L476.75 140.70 L477.40 141.11 L478.05 141.52 L478.70 141.94 L479.35 142.36 L480.00 142.78 L480.65 143.21 L481.30 143.63 L481.95 144.07 L482.60 144.50 L483.25 144.94 L483.90 145.38 L484.55 145.83 L485.20 146.28 L485.85 146.73 L486.50 147.18 L487.15 147.64 L487.80 148.11 L488.45 148.57 L489.10 149.04 L489.75 149.51 L490.40 149.99 L491.05 150.47 L491.70 150.95 L492.35 151.44 L493.00 151.93 L493.65 152.42 L494.30 152.91 L494.95 153.41 L495.60 153.92 L496.25 154.42 L496.90 154.93 L497.55 155.45 L498.20 155.97 L498.85 156.49 L499.50 157.01 L500.15 157.54 L500.80 158.07 L501.45 158.61 L502.10 159.14 L502.75 159.69 L503.40 160.23 L504.05 160.78 L504.70 161.33 L505.35 161.89 L506.00 162.45 L506.65 163.01 L507.30 163.58 L507.95 164.15 L508.60 164.73 L509.25 165.31 L509.90 165.89 L510.55 166.47 L511.20 167.06 L511.85 167.65 L512.50 168.25 L513.15 168.85 L513.80 169.45 L514.45 170.06 L515.10 170.67 L515.75 171.28 L516.40 171.90 L517.05 172.52 L517.70 173.15 L518.35 173.78 L519.00 174.41 L519.65 175.05 L520.30 175.69 L520.95 176.33 L521.60 176.98 L522.25 177.63 L522.90 178.28 L523.55 178.94 L524.20 179.60 L524.85 180.26 L525.50 180.93 L526.15 181.60 L526.80 182.28 L527.45 182.96 L528.10 183.64 L528.75 184.32 L529.40 185.01 L530.05 185.71 L530.70 186.40 L531.35 187.10 L532.00 187.81 L532.65 188.51 L533.30 189.22 L533.95 189.93 L534.60 190.65 L535.25 191.37 L535.90 192.10 L536.55 192.82 L537.20 193.55 L537.85 194.29 L538.50 193.58 L539.15 192.84 L539.80 192.09 L540.45 191.35 L541.10 190.60 L541.75 189.85 L542.40 189.09 L543.05 188.33 L543.70 187.57 L544.35 186.80 L545.00 186.03 L545.65 185.26 L546.30 184.49 L546.95 183.71 L547.60 182.93 L548.25 182.15 L548.90 181.36 L549.55 180.57 L550.20 179.78 L550.85 178.98 L551.50 178.19 L552.15 177.38 L552.80 176.58 L553.45 175.77 L554.10 174.97 L554.75 174.15 L555.40 173.34 L556.05 172.52 L556.70 171.70 L557.35 170.88 L558.00 170.06 L558.65 169.23 L559.30 168.40 L559.95 167.57 L560.60 166.73 L561.25 165.90 L561.90 165.06 L562.55 164.22 L563.20 163.37 L563.85 162.53 L564.50 161.68 L565.15 160.83 L565.80 159.98 L566.45 159.12 L567.10 158.27 L567.75 157.41 L568.40 156.55 L569.05 155.69 L569.70 154.83 L570.35 153.96 L571.00 153.09 L571.65 152.22 L572.30 151.35 L572.95 150.48 L573.60 149.61 L574.25 148.73 L574.90 147.85 L575.55 146.98 L576.20 146.10 L576.85 145.22 L577.50 144.33 L578.15 143.45 L578.80 142.56 L579.45 141.68 L580.10 140.79 L580.75 139.90 L581.40 139.01 L582.05 138.12 L582.70 137.23 L583.35 136.34 L584.00 135.45 L584.65 134.55 L585.30 133.66 L585.95 132.76 L586.60 131.87 L587.25 130.97 L587.90 130.07 L588.55 129.17 L589.20 128.27 L589.85 127.38 L590.50 126.48 L591.15 125.58 L591.80 124.68 L592.45 123.78 L593.10 122.88 L593.75 121.98 L594.40 121.08 L595.05 120.18 L595.70 119.28 L596.35 118.38 L597.00 117.48 L597.65 116.57 L598.30 115.68 L598.95 114.78 L599.60 113.88 L600.25 112.98 L600.90 112.08 L601.55 111.18 L602.20 110.28 L602.85 109.39 L603.50 108.49 L604.15 107.59 L604.80 106.70 L605.45 105.80 L606.10 104.91 L606.75 104.02 L607.40 103.13 L608.05 102.23 L608.70 101.34 L609.35 100.46 L610.00 99.57 L610.65 98.68 L611.30 97.80 L611.95 96.91 L612.60 96.03 L613.25 95.15 L613.90 94.27 L614.55 93.39 L615.20 92.51 L615.85 91.63 L616.50 90.76 L617.15 89.88 L617.80 89.01 L618.45 88.14 L619.10 87.28 L619.75 86.41 L620.40 85.54 L621.05 84.68 L621.70 83.82 L622.35 82.96 L623.00 82.10 L623.65 81.25 L624.30 80.40 L624.95 79.55 L625.60 78.70 L626.25 77.85 L626.90 77.01 L627.55 76.16 L628.20 75.32 L628.85 74.48 L629.50 73.65 L630.15 72.82 L630.80 71.99 L631.45 71.16 L632.10 70.33 L632.75 69.51 L633.40 68.69 L634.05 67.87 L634.70 67.05 L635.35 66.24 L636.00 65.43 L636.65 64.62 L637.30 63.82 L637.95 63.02 L638.60 62.22 L639.25 61.42 L639.90 60.63 L640.55 59.83 L641.20 59.05 L641.85 58.26 L642.50 57.48 L643.15 56.70 L643.80 55.92 L644.45 55.15 L645.10 54.38 L645.75 53.61 L646.40 52.85 L647.05 52.09 L647.70 51.33 L648.35 50.58 L649.00 49.83 L649.65 49.08 L650.30 48.33 L650.95 47.59 L651.60 46.85 L652.25 46.12 L652.90 45.39 L653.55 44.66 L654.20 43.93 L654.85 43.21 L655.50 42.49 L656.15 41.78 L656.80 41.07 L657.45 40.36 L658.10 39.65 L658.75 38.95 L659.40 38.25 L660.05 37.56 L660.70 36.87 L661.35 36.18 L662.00 35.50 L662.65 34.82 L663.30 34.14 L663.95 33.46 L664.60 32.79 L665.25 32.13 L665.90 31.47 L666.55 30.81 L667.20 30.15 L667.85 29.50 L668.50 28.85 L669.15 28.20 L669.80 27.56 L670.45 26.93 L671.10 26.29 L671.75 25.66 L672.40 25.03 L673.05 24.41 L673.70 23.79 L674.35 23.17 L675.00 22.56 L675.65 21.95 L676.30 21.35 L676.95 20.75 L677.60 20.15 L678.25 19.55 L678.90 18.96 L679.55 18.38" fill="none" stroke="#00ff00" stroke-width="2.30" stroke-linejoin="round" stroke-linecap="butt" clip-path="url(#bclip)"/>
<path d="M419.55 118.89 L420.20 119.10 L420.85 119.32 L421.50 119.54 L422.15 119.76 L422.80 119.98 L423.45 120.21 L424.10 120.44 L424.75 120.67 L425.40 120.90 L426.05 121.13 L426.70 121.37 L427.35 121.61 L428.00 121.85 L428.65 122.09 L429.30 122.33 L429.95 122.58 L430.60 122.83 L431.25 123.08 L431.90 123.34 L432.55 123.59 L433.20 123.85 L433.85 124.11 L434.50 124.37 L435.15 124.64 L435.80 124.91 L436.45 125.18 L437.10 125.45 L437.75 125.72 L438.40 126.00 L439.05 126.28 L439.70 126.56 L440.35 126.85 L441.00 127.14 L441.65 127.43 L442.30 127.72 L442.95 128.01 L443.60 128.31 L444.25 128.61 L444.90 128.91 L445.55 129.22 L446.20 129.53 L446.85 129.84 L447.50 130.15 L448.15 130.47 L448.80 130.79 L449.45 131.11 L450.10 131.43 L450.75 131.76 L451.40 132.09 L452.05 132.42 L452.70 132.76 L453.35 133.09 L454.00 133.43 L454.65 133.78 L455.30 134.12 L455.95 134.47 L456.60 134.83 L457.25 135.18 L457.90 135.54 L458.55 135.90 L459.20 136.27 L459.85 136.63 L460.50 137.00 L461.15 137.38 L461.80 137.75 L462.45 138.13 L463.10 138.52 L463.75 138.90 L464.40 139.29 L465.05 139.68 L465.70 140.08 L466.35 140.47 L467.00 140.88 L467.65 141.28 L468.30 141.69 L468.95 142.10 L469.60 142.51 L470.25 142.93 L470.90 143.35 L471.55 143.77 L472.20 144.20 L472.85 144.63 L473.50 145.06 L474.15 145.50 L474.80 145.94 L475.45 146.39 L476.10 146.83 L476.75 147.28 L477.40 147.74 L478.05 148.19 L478.70 148.65 L479.35 149.12 L480.00 149.59 L480.65 150.06 L481.30 150.53 L481.95 151.01 L482.60 151.49 L483.25 151.98 L483.90 152.46 L484.55 152.96 L485.20 153.45 L485.85 153.95 L486.50 154.45 L487.15 154.96 L487.80 155.47 L488.45 155.98 L489.10 156.50 L489.75 157.02 L490.40 157.54 L491.05 158.07 L491.70 158.60 L492.35 159.14 L493.00 159.67 L493.65 160.22 L494.30 160.76 L494.95 161.31 L495.60 161.86 L496.25 162.42 L496.90 162.98 L497.55 163.55 L498.20 164.11 L498.85 164.68 L499.50 165.26 L500.15 165.84 L500.80 166.42 L501.45 167.01 L502.10 167.60 L502.75 168.19 L503.40 168.79 L504.05 169.39 L504.70 169.99 L505.35 170.60 L506.00 171.21 L506.65 171.83 L507.30 172.45 L507.95 173.07 L508.60 173.70 L509.25 174.33 L509.90 174.96 L510.55 175.60 L511.20 176.24 L511.85 176.89 L512.50 177.53 L513.15 178.19 L513.80 178.84 L514.45 179.50 L515.10 180.17 L515.75 180.83 L516.40 181.50 L517.05 182.18 L517.70 182.86 L518.35 183.54 L519.00 184.22 L519.65 184.91 L520.30 185.60 L520.95 186.30 L521.60 187.00 L522.25 187.70 L522.90 188.41 L523.55 189.12 L524.20 189.83 L524.85 190.55 L525.50 191.27 L526.15 191.99 L526.80 192.72 L527.45 193.45 L528.10 194.18 L528.75 193.68 L529.40 192.94 L530.05 192.20 L530.70 191.45 L531.35 190.70 L532.00 189.94 L532.65 189.19 L533.30 188.43 L533.95 187.66 L534.60 186.90 L535.25 186.13 L535.90 185.35 L536.55 184.58 L537.20 183.80 L537.85 183.01 L538.50 182.23 L539.15 181.44 L539.80 180.65 L540.45 179.85 L541.10 179.06 L541.75 178.26 L542.40 177.45 L543.05 176.65 L543.70 175.84 L544.35 175.03 L545.00 174.21 L545.65 173.39 L546.30 172.57 L546.95 171.75 L547.60 170.93 L548.25 170.10 L548.90 169.27 L549.55 168.43 L550.20 167.60 L550.85 166.76 L551.50 165.92 L552.15 165.08 L552.80 164.23 L553.45 163.39 L554.10 162.54 L554.75 161.68 L555.40 160.83 L556.05 159.97 L556.70 159.12 L557.35 158.26 L558.00 157.39 L558.65 156.53 L559.30 155.66 L559.95 154.79 L560.60 153.92 L561.25 153.05 L561.90 152.18 L562.55 151.30 L563.20 150.43 L563.85 149.55 L564.50 148.67 L565.15 147.78 L565.80 146.90 L566.45 146.02 L567.10 145.13 L567.75 144.24 L568.40 143.35 L569.05 142.46 L569.70 141.57 L570.35 140.68 L571.00 139.78 L571.65 138.89 L572.30 137.99 L572.95 137.10 L573.60 136.20 L574.25 135.30 L574.90 134.40 L575.55 133.50 L576.20 132.60 L576.85 131.69 L577.50 130.79 L578.15 129.89 L578.80 128.98 L579.45 128.08 L580.10 127.18 L580.75 126.27 L581.40 125.36 L582.05 124.46 L582.70 123.55 L583.35 122.65 L584.00 121.74 L584.65 120.83 L585.30 119.93 L585.95 119.02 L586.60 118.11 L587.25 117.21 L587.90 116.30 L588.55 115.40 L589.20 114.49 L589.85 113.58 L590.50 112.68 L591.15 111.77 L591.80 110.87 L592.45 109.97 L593.10 109.06 L593.75 108.16 L594.40 107.26 L595.05 106.36 L595.70 105.46 L596.35 104.56 L597.00 103.66 L597.65 102.76 L598.30 101.87 L598.95 100.97 L599.60 100.07 L600.25 99.18 L600.90 98.29 L601.55 97.40 L602.20 96.51 L602.85 95.62 L603.50 94.73 L604.15 93.85 L604.80 92.96 L605.45 92.08 L606.10 91.20 L606.75 90.32 L607.40 89.44 L608.05 88.56 L608.70 87.69 L609.35 86.81 L610.00 85.94 L610.65 85.07 L611.30 84.20 L611.95 83.34 L612.60 82.47 L613.25 81.61 L613.90 80.75 L614.55 79.89 L615.20 79.04 L615.85 78.19 L616.50 77.33 L617.15 76.49 L617.80 75.64 L618.45 74.79 L619.10 73.95 L619.75 73.11 L620.40 72.27 L621.05 71.44 L621.70 70.61 L622.35 69.78 L623.00 68.95 L623.65 68.13 L624.30 67.30 L624.95 66.49 L625.60 65.67 L626.25 64.86 L626.90 64.04 L627.55 63.24 L628.20 62.43 L628.85 61.63 L629.50 60.83 L630.15 60.03 L630.80 59.24 L631.45 58.45 L632.10 57.66 L632.75 56.88 L633.40 56.09 L634.05 55.31 L634.70 54.54 L635.35 53.77 L636.00 53.00 L636.65 52.23 L637.30 51.47 L637.95 50.71 L638.60 49.95 L639.25 49.20 L639.90 48.45 L640.55 47.70 L641.20 46.96 L641.85 46.22 L642.50 45.48 L643.15 44.75 L643.80 44.02 L644.45 43.30 L645.10 42.57 L645.75 41.85 L646.40 41.14 L647.05 40.43 L647.70 39.72 L648.35 39.01 L649.00 38.31 L649.65 37.61 L650.30 36.92 L650.95 36.23 L651.60 35.54 L652.25 34.85 L652.90 34.17 L653.55 33.50 L654.20 32.82 L654.85 32.15 L655.50 31.49 L656.15 30.83 L656.80 30.17 L657.45 29.51 L658.10 28.86 L658.75 28.21 L659.40 27.57 L660.05 26.93 L660.70 26.29 L661.35 25.66 L662.00 25.03 L662.65 24.40 L663.30 23.78 L663.95 23.16 L664.60 22.55 L665.25 21.94 L665.90 21.33 L666.55 20.73 L667.20 20.13 L667.85 19.53 L668.50 18.94 L669.15 18.35 L669.80 17.77 L670.45 17.18 L671.10 16.61 L671.75 16.03 L672.40 15.46 L673.05 14.90 L673.70 14.33 L674.35 13.77 L675.00 13.22 L675.65 12.67 L676.30 12.12 L676.95 11.57 L677.60 11.03 L678.25 10.49 L678.90 9.96 L679.55 9.43" fill="none" stroke="#0000ff" stroke-width="2.30" stroke-linejoin="round" stroke-linecap="butt" clip-path="url(#bclip)"/>
<rect x="414.60" y="0.50" width="270.90" height="197.80" fill="none" stroke="#7f7f7f" stroke-width="1"/>
<path d="M419.55 198.30v-3.20M419.55 0.50v3.20M432.55 198.30v-2.00M432.55 0.50v2.00M445.55 198.30v-2.00M445.55 0.50v2.00M458.55 198.30v-2.00M458.55 0.50v2.00M471.55 198.30v-2.00M471.55 0.50v2.00M484.55 198.30v-3.20M484.55 0.50v3.20M497.55 198.30v-2.00M497.55 0.50v2.00M510.55 198.30v-2.00M510.55 0.50v2.00M523.55 198.30v-2.00M523.55 0.50v2.00M536.55 198.30v-2.00M536.55 0.50v2.00M549.55 198.30v-3.20M549.55 0.50v3.20M562.55 198.30v-2.00M562.55 0.50v2.00M575.55 198.30v-2.00M575.55 0.50v2.00M588.55 198.30v-2.00M588.55 0.50v2.00M601.55 198.30v-2.00M601.55 0.50v2.00M614.55 198.30v-3.20M614.55 0.50v3.20M627.55 198.30v-2.00M627.55 0.50v2.00M640.55 198.30v-2.00M640.55 0.50v2.00M653.55 198.30v-2.00M653.55 0.50v2.00M666.55 198.30v-2.00M666.55 0.50v2.00M679.55 198.30v-3.20M679.55 0.50v3.20M414.60 194.30h3.20M685.50 194.30h-3.20M414.60 187.42h2.00M685.50 187.42h-2.00M414.60 180.53h2.00M685.50 180.53h-2.00M414.60 173.65h2.00M685.50 173.65h-2.00M414.60 166.76h2.00M685.50 166.76h-2.00M414.60 159.88h3.20M685.50 159.88h-3.20M414.60 152.99h2.00M685.50 152.99h-2.00M414.60 146.11h2.00M685.50 146.11h-2.00M414.60 139.22h2.00M685.50 139.22h-2.00M414.60 132.34h2.00M685.50 132.34h-2.00M414.60 125.45h3.20M685.50 125.45h-3.20M414.60 118.57h2.00M685.50 118.57h-2.00M414.60 111.68h2.00M685.50 111.68h-2.00M414.60 104.80h2.00M685.50 104.80h-2.00M414.60 97.91h2.00M685.50 97.91h-2.00M414.60 91.03h3.20M685.50 91.03h-3.20M414.60 84.14h2.00M685.50 84.14h-2.00M414.60 77.26h2.00M685.50 77.26h-2.00M414.60 70.37h2.00M685.50 70.37h-2.00M414.60 63.49h2.00M685.50 63.49h-2.00M414.60 56.60h3.20M685.50 56.60h-3.20M414.60 49.72h2.00M685.50 49.72h-2.00M414.60 42.83h2.00M685.50 42.83h-2.00M414.60 35.95h2.00M685.50 35.95h-2.00M414.60 29.06h2.00M685.50 29.06h-2.00M414.60 22.18h3.20M685.50 22.18h-3.20M414.60 15.29h2.00M685.50 15.29h-2.00M414.60 8.41h2.00M685.50 8.41h-2.00M414.60 1.52h2.00M685.50 1.52h-2.00" stroke="#7f7f7f" stroke-width="1" fill="none"/>
<text transform="translate(419.55 213.60) scale(0.860 1)" font-family='"Liberation Sans", sans-serif' font-weight="bold" font-size="13.10" text-anchor="middle" fill="#000" stroke="#000" stroke-width="0.3">−10</text>
<text transform="translate(484.55 213.60) scale(0.860 1)" font-family='"Liberation Sans", sans-serif' font-weight="bold" font-size="13.10" text-anchor="middle" fill="#000" stroke="#000" stroke-width="0.3">−5</text>
<text transform="translate(549.55 213.60) scale(0.860 1)" font-family='"Liberation Sans", sans-serif' font-weight="bold" font-size="13.10" text-anchor="middle" fill="#000" stroke="#000" stroke-width="0.3">0</text>
<text transform="translate(614.55 213.60) scale(0.860 1)" font-family='"Liberation Sans", sans-serif' font-weight="bold" font-size="13.10" text-anchor="middle" fill="#000" stroke="#000" stroke-width="0.3">5</text>
<text transform="translate(679.55 213.60) scale(0.860 1)" font-family='"Liberation Sans", sans-serif' font-weight="bold" font-size="13.10" text-anchor="middle" fill="#000" stroke="#000" stroke-width="0.3">10</text>
<text transform="translate(411.40 198.99) scale(0.860 1)" font-family='"Liberation Sans", sans-serif' font-weight="bold" font-size="13.10" text-anchor="end" fill="#000" stroke="#000" stroke-width="0.3">0</text>
<text transform="translate(411.40 164.56) scale(0.860 1)" font-family='"Liberation Sans", sans-serif' font-weight="bold" font-size="13.10" text-anchor="end" fill="#000" stroke="#000" stroke-width="0.3">5</text>
<text transform="translate(411.40 130.14) scale(0.860 1)" font-family='"Liberation Sans", sans-serif' font-weight="bold" font-size="13.10" text-anchor="end" fill="#000" stroke="#000" stroke-width="0.3">10</text>
<text transform="translate(411.40 95.71) scale(0.860 1)" font-family='"Liberation Sans", sans-serif' font-weight="bold" font-size="13.10" text-anchor="end" fill="#000" stroke="#000" stroke-width="0.3">15</text>
<text transform="translate(411.40 61.29) scale(0.860 1)" font-family='"Liberation Sans", sans-serif' font-weight="bold" font-size="13.10" text-anchor="end" fill="#000" stroke="#000" stroke-width="0.3">20</text>
<text transform="translate(411.40 26.86) scale(0.860 1)" font-family='"Liberation Sans", sans-serif' font-weight="bold" font-size="13.10" text-anchor="end" fill="#000" stroke="#000" stroke-width="0.3">25</text>
<text transform="translate(549.55 234.20) scale(0.860 1)" font-family='"Liberation Sans", sans-serif' font-weight="bold" font-size="13.10" text-anchor="middle" fill="#000" stroke="#000" stroke-width="0.3">x</text>
<g transform="translate(392.40 125.30) rotate(-90) scale(1 0.87)"><text font-family='"Liberation Sans", sans-serif' font-weight="bold" font-size="11.70" fill="#000" stroke="#000" stroke-width="0.2"><tspan x="-1.64">|</tspan><tspan x="13.4" dy="2.6" font-size="9.4">3</tspan><tspan x="21.4" dy="-2.6">(</tspan><tspan x="28.8">x,</tspan><tspan x="38.6">t)</tspan><tspan x="50.26">|</tspan></text><text x="4.6" y="1.4" font-family='"Liberation Serif", "DejaVu Serif", serif' font-weight="bold" font-style="italic" font-size="12.4" fill="#000">R</text></g>
<rect x="463.50" y="96.50" width="44.00" height="58.00" fill="#fff" stroke="#b4b4b4" stroke-width="1"/>
<line x1="464.70" y1="107.40" x2="479.20" y2="107.40" stroke="#ff0000" stroke-width="2"/>
<text transform="translate(481.00 111.50) scale(0.800 1)" font-family='"Liberation Sans", sans-serif' font-weight="normal" font-size="11.50" text-anchor="start" fill="#000" stroke="#000" stroke-width="0">ω=0.6</text>
<line x1="464.70" y1="125.90" x2="479.20" y2="125.90" stroke="#00ff00" stroke-width="2"/>
<text transform="translate(481.00 130.00) scale(0.800 1)" font-family='"Liberation Sans", sans-serif' font-weight="normal" font-size="11.50" text-anchor="start" fill="#000" stroke="#000" stroke-width="0">ω=0.8</text>
<line x1="464.70" y1="143.90" x2="479.20" y2="143.90" stroke="#0000ff" stroke-width="2"/>
<text transform="translate(481.00 148.00) scale(0.800 1)" font-family='"Liberation Sans", sans-serif' font-weight="normal" font-size="11.50" text-anchor="start" fill="#000" stroke="#000" stroke-width="0">ω=1.0</text>
<text x="187.40" y="271.90" font-family='"Liberation Serif", "DejaVu Serif", serif' font-size="19.5" text-anchor="middle" letter-spacing="-0.2" fill="#222">(a)</text>
<text x="515.50" y="271.90" font-family='"Liberation Serif", "DejaVu Serif", serif' font-size="19.5" text-anchor="middle" letter-spacing="-0.2" fill="#222">(b)</text>
<text x="351.80" y="562.50" font-family='"Liberation Serif", "DejaVu Serif", serif' font-size="19.5" text-anchor="middle" letter-spacing="-0.2" fill="#222">(c)</text>
<g id="plot3d">
<line x1="361.83" y1="352.18" x2="359.20" y2="288.78" stroke="#5e5e5e" stroke-width="0.60"/>
<line x1="361.83" y1="352.18" x2="579.70" y2="402.64" stroke="#5e5e5e" stroke-width="0.60"/>
<line x1="361.83" y1="352.18" x2="219.54" y2="454.90" stroke="#5e5e5e" stroke-width="0.60"/>
<line x1="219.54" y1="454.90" x2="471.27" y2="530.90" stroke="#5e5e5e" stroke-width="0.60"/>
<line x1="471.27" y1="530.90" x2="579.70" y2="402.64" stroke="#5e5e5e" stroke-width="0.60"/>
<line x1="219.54" y1="454.90" x2="205.47" y2="384.80" stroke="#5e5e5e" stroke-width="0.60"/>
<line x1="579.70" y1="402.64" x2="591.81" y2="335.59" stroke="#5e5e5e" stroke-width="0.60"/>
<line x1="471.27" y1="530.90" x2="477.10" y2="457.48" stroke="#5e5e5e" stroke-width="0.60"/>
<line x1="205.47" y1="384.80" x2="359.20" y2="288.78" stroke="#5e5e5e" stroke-width="0.60"/>
<line x1="359.20" y1="288.78" x2="591.81" y2="335.59" stroke="#5e5e5e" stroke-width="0.60"/>
<polygon points="362.4,329.6 360.1,331.3 363.6,330.0 362.4,329.6" fill="#29aca6" stroke="#29aca6" stroke-width="1.4" stroke-linejoin="round"/>
<polygon points="360.1,331.3 357.8,333.0 364.8,330.3 363.6,330.0" fill="#29aba6" stroke="#29aba6" stroke-width="1.4" stroke-linejoin="round"/>
<polygon points="357.8,333.0 355.4,334.7 366.0,330.7 364.8,330.3" fill="#29aba6" stroke="#29aba6" stroke-width="1.4" stroke-linejoin="round"/>
<polygon points="355.4,334.7 353.0,336.5 367.1,331.0 366.0,330.7" fill="#28aba6" stroke="#28aba6" stroke-width="1.4" stroke-linejoin="round"/>
<polygon points="353.0,336.5 350.7,338.2 368.3,331.4 367.1,331.0" fill="#28aaa6" stroke="#28aaa6" stroke-width="1.4" stroke-linejoin="round"/>
<polygon points="350.7,338.2 348.3,340.0 369.5,331.8 368.3,331.4" fill="#28aaa6" stroke="#28aaa6" stroke-width="1.4" stroke-linejoin="round"/>
<polygon points="348.3,340.0 345.8,341.8 370.7,332.1 369.5,331.8" fill="#28aaa6" stroke="#28aaa6" stroke-width="1.4" stroke-linejoin="round"/>
<polygon points="345.8,341.8 343.4,343.6 371.9,332.5 370.7,332.1" fill="#28aaa7" stroke="#28aaa7" stroke-width="1.4" stroke-linejoin="round"/>
<polygon points="343.4,343.6 340.9,345.4 373.0,332.9 371.9,332.5" fill="#28a9a7" stroke="#28a9a7" stroke-width="1.4" stroke-linejoin="round"/>
<polygon points="340.9,345.4 338.5,347.2 374.2,333.2 373.0,332.9" fill="#28a9a7" stroke="#28a9a7" stroke-width="1.4" stroke-linejoin="round"/>
<polygon points="338.5,347.2 336.0,349.0 375.4,333.6 374.2,333.2" fill="#28a8a7" stroke="#28a8a7" stroke-width="1.4" stroke-linejoin="round"/>
<polygon points="336.0,349.0 333.5,350.9 376.6,334.0 375.4,333.6" fill="#28a8a7" stroke="#28a8a7" stroke-width="1.4" stroke-linejoin="round"/>
<polygon points="333.5,350.9 331.0,352.7 377.8,334.4 376.6,334.0" fill="#28a8a7" stroke="#28a8a7" stroke-width="1.4" stroke-linejoin="round"/>
<polygon points="331.0,352.7 328.4,354.6 379.0,334.7 377.8,334.4" fill="#28a7a8" stroke="#28a7a8" stroke-width="1.4" stroke-linejoin="round"/>
<polygon points="328.4,354.6 325.9,356.5 380.2,335.1 379.0,334.7" fill="#28a7a8" stroke="#28a7a8" stroke-width="1.4" stroke-linejoin="round"/>
<polygon points="325.9,356.5 323.3,358.5 381.4,335.5 380.2,335.1" fill="#28a7a8" stroke="#28a7a8" stroke-width="1.4" stroke-linejoin="round"/>
<polygon points="323.3,358.5 320.7,360.4 382.6,335.9 381.4,335.5" fill="#27a6a8" stroke="#27a6a8" stroke-width="1.4" stroke-linejoin="round"/>
<polygon points="320.7,360.4 318.1,362.3 383.7,336.3 382.6,335.9" fill="#27a6a8" stroke="#27a6a8" stroke-width="1.4" stroke-linejoin="round"/>
<polygon points="318.1,362.3 315.5,364.3 384.9,336.7 383.7,336.3" fill="#27a5a9" stroke="#27a5a9" stroke-width="1.4" stroke-linejoin="round"/>
<polygon points="315.5,364.3 312.8,366.3 386.1,337.1 384.9,336.7" fill="#27a5a9" stroke="#27a5a9" stroke-width="1.4" stroke-linejoin="round"/>
<polygon points="312.8,366.3 310.1,368.3 387.3,337.5 386.1,337.1" fill="#27a5a9" stroke="#27a5a9" stroke-width="1.4" stroke-linejoin="round"/>
<polygon points="310.1,368.3 307.5,370.3 388.5,337.9 387.3,337.5" fill="#27a4a9" stroke="#27a4a9" stroke-width="1.4" stroke-linejoin="round"/>
<polygon points="307.5,370.3 304.7,372.3 389.7,338.3 388.5,337.9" fill="#27a4a9" stroke="#27a4a9" stroke-width="1.4" stroke-linejoin="round"/>
<polygon points="304.7,372.3 302.0,374.4 390.9,338.8 389.7,338.3" fill="#27a3aa" stroke="#27a3aa" stroke-width="1.4" stroke-linejoin="round"/>
<polygon points="302.0,374.4 299.3,376.5 392.1,339.2 390.9,338.8" fill="#27a3aa" stroke="#27a3aa" stroke-width="1.4" stroke-linejoin="round"/>
<polygon points="299.3,376.5 296.5,378.6 393.3,339.6 392.1,339.2" fill="#27a2aa" stroke="#27a2aa" stroke-width="1.4" stroke-linejoin="round"/>
<polygon points="296.5,378.6 293.7,380.7 394.5,340.0 393.3,339.6" fill="#26a2aa" stroke="#26a2aa" stroke-width="1.4" stroke-linejoin="round"/>
<polygon points="293.7,380.7 290.9,382.8 395.7,340.5 394.5,340.0" fill="#26a1aa" stroke="#26a1aa" stroke-width="1.4" stroke-linejoin="round"/>
<polygon points="290.9,382.8 288.1,384.9 397.0,340.9 395.7,340.5" fill="#26a1ab" stroke="#26a1ab" stroke-width="1.4" stroke-linejoin="round"/>
<polygon points="288.1,384.9 285.3,387.1 398.2,341.3 397.0,340.9" fill="#26a0ab" stroke="#26a0ab" stroke-width="1.4" stroke-linejoin="round"/>
<polygon points="285.3,387.1 282.4,389.3 399.4,341.8 398.2,341.3" fill="#26a0ab" stroke="#26a0ab" stroke-width="1.4" stroke-linejoin="round"/>
<polygon points="282.4,389.3 279.5,391.5 400.6,342.2 399.4,341.8" fill="#269fab" stroke="#269fab" stroke-width="1.4" stroke-linejoin="round"/>
<polygon points="279.5,391.5 276.6,393.7 401.8,342.7 400.6,342.2" fill="#269eac" stroke="#269eac" stroke-width="1.4" stroke-linejoin="round"/>
<polygon points="276.6,393.7 273.7,396.0 403.0,343.1 401.8,342.7" fill="#269dac" stroke="#269dac" stroke-width="1.4" stroke-linejoin="round"/>
<polygon points="273.7,396.0 270.7,398.2 404.2,343.6 403.0,343.1" fill="#269dac" stroke="#269dac" stroke-width="1.4" stroke-linejoin="round"/>
<polygon points="270.7,398.2 267.8,400.5 405.4,344.0 404.2,343.6" fill="#269cac" stroke="#269cac" stroke-width="1.4" stroke-linejoin="round"/>
<polygon points="267.8,400.5 264.8,402.8 406.6,344.5 405.4,344.0" fill="#259bac" stroke="#259bac" stroke-width="1.4" stroke-linejoin="round"/>
<polygon points="264.8,402.8 261.8,405.2 407.9,345.0 406.6,344.5" fill="#259bad" stroke="#259bad" stroke-width="1.4" stroke-linejoin="round"/>
<polygon points="261.8,405.2 258.7,407.5 409.1,345.4 407.9,345.0" fill="#259aad" stroke="#259aad" stroke-width="1.4" stroke-linejoin="round"/>
<polygon points="258.7,407.5 255.7,409.9 410.3,345.9 409.1,345.4" fill="#2599ad" stroke="#2599ad" stroke-width="1.4" stroke-linejoin="round"/>
<polygon points="255.7,409.9 252.6,412.3 411.5,346.4 410.3,345.9" fill="#2598ad" stroke="#2598ad" stroke-width="1.4" stroke-linejoin="round"/>
<polygon points="252.6,412.3 249.5,414.7 412.7,346.9 411.5,346.4" fill="#2597ae" stroke="#2597ae" stroke-width="1.4" stroke-linejoin="round"/>
<polygon points="249.5,414.7 246.4,417.2 413.9,347.4 412.7,346.9" fill="#2597ae" stroke="#2597ae" stroke-width="1.4" stroke-linejoin="round"/>
<polygon points="246.4,417.2 243.2,419.6 415.2,347.9 413.9,347.4" fill="#2596ae" stroke="#2596ae" stroke-width="1.4" stroke-linejoin="round"/>
<polygon points="243.2,419.6 240.0,422.1 416.4,348.4 415.2,347.9" fill="#2595af" stroke="#2595af" stroke-width="1.4" stroke-linejoin="round"/>
<polygon points="240.0,422.1 236.8,424.6 417.6,348.9 416.4,348.4" fill="#2494af" stroke="#2494af" stroke-width="1.4" stroke-linejoin="round"/>
<polygon points="236.8,424.6 233.6,427.2 418.8,349.4 417.6,348.9" fill="#2493af" stroke="#2493af" stroke-width="1.4" stroke-linejoin="round"/>
<polygon points="233.6,427.2 230.4,429.7 420.0,349.9 418.8,349.4" fill="#2492af" stroke="#2492af" stroke-width="1.4" stroke-linejoin="round"/>
<polygon points="230.4,429.7 227.1,432.3 421.3,350.5 420.0,349.9" fill="#2491b0" stroke="#2491b0" stroke-width="1.4" stroke-linejoin="round"/>
<polygon points="227.1,432.3 223.8,435.0 422.5,351.0 421.3,350.5" fill="#2490b0" stroke="#2490b0" stroke-width="1.4" stroke-linejoin="round"/>
<polygon points="223.8,435.0 225.2,435.6 423.7,351.5 422.5,351.0" fill="#248eb0" stroke="#248eb0" stroke-width="1.4" stroke-linejoin="round"/>
<polygon points="225.2,435.6 226.5,436.3 424.9,352.0 423.7,351.5" fill="#248cb1" stroke="#248cb1" stroke-width="1.4" stroke-linejoin="round"/>
<polygon points="226.5,436.3 227.9,436.9 426.1,352.6 424.9,352.0" fill="#238bb1" stroke="#238bb1" stroke-width="1.4" stroke-linejoin="round"/>
<polygon points="227.9,436.9 229.2,437.6 427.3,353.1 426.1,352.6" fill="#2389b2" stroke="#2389b2" stroke-width="1.4" stroke-linejoin="round"/>
<polygon points="229.2,437.6 230.6,438.3 428.6,353.7 427.3,353.1" fill="#2386b2" stroke="#2386b2" stroke-width="1.4" stroke-linejoin="round"/>
<polygon points="230.6,438.3 231.9,438.9 429.8,354.2 428.6,353.7" fill="#2384b3" stroke="#2384b3" stroke-width="1.4" stroke-linejoin="round"/>
<polygon points="231.9,438.9 233.3,439.6 431.0,354.8 429.8,354.2" fill="#2282b3" stroke="#2282b3" stroke-width="1.4" stroke-linejoin="round"/>
<polygon points="233.3,439.6 234.7,440.3 432.2,355.3 431.0,354.8" fill="#2280b4" stroke="#2280b4" stroke-width="1.4" stroke-linejoin="round"/>
<polygon points="234.7,440.3 236.0,441.0 433.4,355.9 432.2,355.3" fill="#227eb5" stroke="#227eb5" stroke-width="1.4" stroke-linejoin="round"/>
<polygon points="236.0,441.0 237.4,441.7 434.6,356.5 433.4,355.9" fill="#217cb5" stroke="#217cb5" stroke-width="1.4" stroke-linejoin="round"/>
<polygon points="237.4,441.7 238.8,442.4 435.9,357.1 434.6,356.5" fill="#2179b6" stroke="#2179b6" stroke-width="1.4" stroke-linejoin="round"/>
<polygon points="238.8,442.4 240.1,443.1 437.1,357.6 435.9,357.1" fill="#2177b6" stroke="#2177b6" stroke-width="1.4" stroke-linejoin="round"/>
<polygon points="240.1,443.1 241.5,443.8 438.3,358.2 437.1,357.6" fill="#2174b6" stroke="#2174b6" stroke-width="1.4" stroke-linejoin="round"/>
<polygon points="241.5,443.8 242.9,444.6 439.5,358.8 438.3,358.2" fill="#2171b6" stroke="#2171b6" stroke-width="1.4" stroke-linejoin="round"/>
<polygon points="242.9,444.6 244.2,445.3 440.7,359.4 439.5,358.8" fill="#216eb7" stroke="#216eb7" stroke-width="1.4" stroke-linejoin="round"/>
<polygon points="244.2,445.3 245.6,446.0 442.0,360.0 440.7,359.4" fill="#216cb7" stroke="#216cb7" stroke-width="1.4" stroke-linejoin="round"/>
<polygon points="245.6,446.0 247.0,446.8 443.2,360.6 442.0,360.0" fill="#2169b7" stroke="#2169b7" stroke-width="1.4" stroke-linejoin="round"/>
<polygon points="247.0,446.8 248.4,447.5 444.4,361.3 443.2,360.6" fill="#2066b7" stroke="#2066b7" stroke-width="1.4" stroke-linejoin="round"/>
<polygon points="248.4,447.5 249.8,448.3 445.6,361.9 444.4,361.3" fill="#2062b7" stroke="#2062b7" stroke-width="1.4" stroke-linejoin="round"/>
<polygon points="249.8,448.3 251.1,449.1 446.9,362.5 445.6,361.9" fill="#205fb8" stroke="#205fb8" stroke-width="1.4" stroke-linejoin="round"/>
<polygon points="251.1,449.1 252.5,449.8 448.1,363.1 446.9,362.5" fill="#205cb8" stroke="#205cb8" stroke-width="1.4" stroke-linejoin="round"/>
<polygon points="252.5,449.8 253.9,450.6 449.3,363.8 448.1,363.1" fill="#2059b8" stroke="#2059b8" stroke-width="1.4" stroke-linejoin="round"/>
<polygon points="253.9,450.6 255.3,451.4 450.5,364.4 449.3,363.8" fill="#2056b7" stroke="#2056b7" stroke-width="1.4" stroke-linejoin="round"/>
<polygon points="255.3,451.4 256.7,452.2 451.7,365.1 450.5,364.4" fill="#2153b7" stroke="#2153b7" stroke-width="1.4" stroke-linejoin="round"/>
<polygon points="256.7,452.2 258.1,453.0 453.0,365.7 451.7,365.1" fill="#2150b6" stroke="#2150b6" stroke-width="1.4" stroke-linejoin="round"/>
<polygon points="258.1,453.0 259.5,453.8 454.2,366.4 453.0,365.7" fill="#214db5" stroke="#214db5" stroke-width="1.4" stroke-linejoin="round"/>
<polygon points="259.5,453.8 260.9,454.6 455.4,367.1 454.2,366.4" fill="#224ab4" stroke="#224ab4" stroke-width="1.4" stroke-linejoin="round"/>
<polygon points="260.9,454.6 262.3,455.4 456.6,367.7 455.4,367.1" fill="#2247b4" stroke="#2247b4" stroke-width="1.4" stroke-linejoin="round"/>
<polygon points="262.3,455.4 263.7,456.2 457.9,368.4 456.6,367.7" fill="#2343b3" stroke="#2343b3" stroke-width="1.4" stroke-linejoin="round"/>
<polygon points="263.7,456.2 265.1,457.0 459.1,369.1 457.9,368.4" fill="#2340b2" stroke="#2340b2" stroke-width="1.4" stroke-linejoin="round"/>
<polygon points="265.1,457.0 266.5,457.9 460.3,369.8 459.1,369.1" fill="#233db1" stroke="#233db1" stroke-width="1.4" stroke-linejoin="round"/>
<polygon points="266.5,457.9 267.9,458.7 461.5,370.5 460.3,369.8" fill="#2439b0" stroke="#2439b0" stroke-width="1.4" stroke-linejoin="round"/>
<polygon points="267.9,458.7 269.3,459.5 462.8,371.2 461.5,370.5" fill="#2436af" stroke="#2436af" stroke-width="1.4" stroke-linejoin="round"/>
<polygon points="269.3,459.5 270.7,460.4 464.0,371.9 462.8,371.2" fill="#2533ad" stroke="#2533ad" stroke-width="1.4" stroke-linejoin="round"/>
<polygon points="270.7,460.4 272.1,461.2 465.2,372.6 464.0,371.9" fill="#2630aa" stroke="#2630aa" stroke-width="1.4" stroke-linejoin="round"/>
<polygon points="272.1,461.2 273.5,462.1 466.4,373.4 465.2,372.6" fill="#272da8" stroke="#272da8" stroke-width="1.4" stroke-linejoin="round"/>
<polygon points="273.5,462.1 274.9,463.0 467.7,374.1 466.4,373.4" fill="#272aa6" stroke="#272aa6" stroke-width="1.4" stroke-linejoin="round"/>
<polygon points="274.9,463.0 276.3,463.8 468.9,374.8 467.7,374.1" fill="#2826a4" stroke="#2826a4" stroke-width="1.4" stroke-linejoin="round"/>
<polygon points="276.3,463.8 277.7,464.7 470.1,375.5 468.9,374.8" fill="#2923a2" stroke="#2923a2" stroke-width="1.4" stroke-linejoin="round"/>
<polygon points="277.7,464.7 279.1,465.6 471.3,376.3 470.1,375.5" fill="#2a209f" stroke="#2a209f" stroke-width="1.4" stroke-linejoin="round"/>
<polygon points="279.1,465.6 280.6,466.5 472.6,377.0 471.3,376.3" fill="#2a1d9d" stroke="#2a1d9d" stroke-width="1.4" stroke-linejoin="round"/>
<polygon points="280.6,466.5 282.0,467.4 473.8,377.8 472.6,377.0" fill="#2b1a9a" stroke="#2b1a9a" stroke-width="1.4" stroke-linejoin="round"/>
<polygon points="282.0,467.4 283.4,468.3 475.0,378.6 473.8,377.8" fill="#2b1797" stroke="#2b1797" stroke-width="1.4" stroke-linejoin="round"/>
<polygon points="283.4,468.3 284.8,469.2 476.2,379.3 475.0,378.6" fill="#2b1494" stroke="#2b1494" stroke-width="1.4" stroke-linejoin="round"/>
<polygon points="284.8,469.2 286.2,470.1 477.5,380.1 476.2,379.3" fill="#2c1191" stroke="#2c1191" stroke-width="1.4" stroke-linejoin="round"/>
<polygon points="286.2,470.1 287.5,470.0 478.8,379.9 477.5,380.1" fill="#291187" stroke="#291187" stroke-width="1.4" stroke-linejoin="round"/>
<polygon points="287.5,470.0 288.8,469.9 480.1,379.7 478.8,379.9" fill="#281284" stroke="#281284" stroke-width="1.4" stroke-linejoin="round"/>
<polygon points="288.8,469.9 290.1,469.8 481.4,379.5 480.1,379.7" fill="#271382" stroke="#271382" stroke-width="1.4" stroke-linejoin="round"/>
<polygon points="290.1,469.8 291.5,469.6 482.7,379.3 481.4,379.5" fill="#26147f" stroke="#26147f" stroke-width="1.4" stroke-linejoin="round"/>
<polygon points="291.5,469.6 292.8,469.5 484.1,379.1 482.7,379.3" fill="#24157d" stroke="#24157d" stroke-width="1.4" stroke-linejoin="round"/>
<polygon points="292.8,469.5 294.1,469.4 485.4,378.9 484.1,379.1" fill="#23167b" stroke="#23167b" stroke-width="1.4" stroke-linejoin="round"/>
<polygon points="294.1,469.4 295.4,469.2 486.7,378.6 485.4,378.9" fill="#221879" stroke="#221879" stroke-width="1.4" stroke-linejoin="round"/>
<polygon points="295.4,469.2 296.7,469.1 488.1,378.4 486.7,378.6" fill="#211978" stroke="#211978" stroke-width="1.4" stroke-linejoin="round"/>
<polygon points="296.7,469.1 298.1,468.9 489.4,378.2 488.1,378.4" fill="#201a76" stroke="#201a76" stroke-width="1.4" stroke-linejoin="round"/>
<polygon points="298.1,468.9 299.4,468.8 490.7,377.9 489.4,378.2" fill="#1f1c74" stroke="#1f1c74" stroke-width="1.4" stroke-linejoin="round"/>
<polygon points="299.4,468.8 300.7,468.6 492.1,377.7 490.7,377.9" fill="#1e1e73" stroke="#1e1e73" stroke-width="1.4" stroke-linejoin="round"/>
<polygon points="300.7,468.6 302.0,468.4 493.4,377.4 492.1,377.7" fill="#1e2073" stroke="#1e2073" stroke-width="1.4" stroke-linejoin="round"/>
<polygon points="302.0,468.4 303.4,468.2 494.8,377.2 493.4,377.4" fill="#1d2372" stroke="#1d2372" stroke-width="1.4" stroke-linejoin="round"/>
<polygon points="303.4,468.2 304.7,468.1 496.1,376.9 494.8,377.2" fill="#1d2572" stroke="#1d2572" stroke-width="1.4" stroke-linejoin="round"/>
<polygon points="304.7,468.1 306.1,467.9 497.5,376.7 496.1,376.9" fill="#1c2771" stroke="#1c2771" stroke-width="1.4" stroke-linejoin="round"/>
<polygon points="306.1,467.9 307.4,467.7 498.9,376.4 497.5,376.7" fill="#1c2971" stroke="#1c2971" stroke-width="1.4" stroke-linejoin="round"/>
<polygon points="307.4,467.7 308.8,467.5 500.2,376.1 498.9,376.4" fill="#1b2c70" stroke="#1b2c70" stroke-width="1.4" stroke-linejoin="round"/>
<polygon points="308.8,467.5 310.1,467.3 501.6,375.8 500.2,376.1" fill="#1b2f70" stroke="#1b2f70" stroke-width="1.4" stroke-linejoin="round"/>
<polygon points="310.1,467.3 311.5,467.1 503.0,375.6 501.6,375.8" fill="#1b3270" stroke="#1b3270" stroke-width="1.4" stroke-linejoin="round"/>
<polygon points="311.5,467.1 312.8,466.9 504.4,375.3 503.0,375.6" fill="#1b3570" stroke="#1b3570" stroke-width="1.4" stroke-linejoin="round"/>
<polygon points="312.8,466.9 314.2,466.7 505.7,375.0 504.4,375.3" fill="#1a3870" stroke="#1a3870" stroke-width="1.4" stroke-linejoin="round"/>
<polygon points="314.2,466.7 315.6,466.5 507.1,374.7 505.7,375.0" fill="#1a3c70" stroke="#1a3c70" stroke-width="1.4" stroke-linejoin="round"/>
<polygon points="315.6,466.5 316.9,466.2 508.5,374.4 507.1,374.7" fill="#1a3f70" stroke="#1a3f70" stroke-width="1.4" stroke-linejoin="round"/>
<polygon points="316.9,466.2 318.3,466.0 509.9,374.1 508.5,374.4" fill="#1a4270" stroke="#1a4270" stroke-width="1.4" stroke-linejoin="round"/>
<polygon points="318.3,466.0 319.7,465.8 511.3,373.8 509.9,374.1" fill="#1a4570" stroke="#1a4570" stroke-width="1.4" stroke-linejoin="round"/>
<polygon points="319.7,465.8 321.1,465.6 512.7,373.5 511.3,373.8" fill="#1b496f" stroke="#1b496f" stroke-width="1.4" stroke-linejoin="round"/>
<polygon points="321.1,465.6 322.5,465.3 514.1,373.2 512.7,373.5" fill="#1b4c6f" stroke="#1b4c6f" stroke-width="1.4" stroke-linejoin="round"/>
<polygon points="322.5,465.3 323.8,465.1 515.5,372.9 514.1,373.2" fill="#1b4f6f" stroke="#1b4f6f" stroke-width="1.4" stroke-linejoin="round"/>
<polygon points="323.8,465.1 325.2,464.9 516.9,372.6 515.5,372.9" fill="#1c536e" stroke="#1c536e" stroke-width="1.4" stroke-linejoin="round"/>
<polygon points="325.2,464.9 326.6,464.6 518.3,372.3 516.9,372.6" fill="#1c566e" stroke="#1c566e" stroke-width="1.4" stroke-linejoin="round"/>
<polygon points="326.6,464.6 328.0,464.4 519.8,371.9 518.3,372.3" fill="#1d596e" stroke="#1d596e" stroke-width="1.4" stroke-linejoin="round"/>
<polygon points="328.0,464.4 329.4,464.1 521.2,371.6 519.8,371.9" fill="#1e5c6d" stroke="#1e5c6d" stroke-width="1.4" stroke-linejoin="round"/>
<polygon points="329.4,464.1 330.8,463.9 522.6,371.3 521.2,371.6" fill="#1f5f6c" stroke="#1f5f6c" stroke-width="1.4" stroke-linejoin="round"/>
<polygon points="330.8,463.9 332.3,463.6 524.0,371.0 522.6,371.3" fill="#20626b" stroke="#20626b" stroke-width="1.4" stroke-linejoin="round"/>
<polygon points="332.3,463.6 333.7,463.4 525.5,370.6 524.0,371.0" fill="#22666a" stroke="#22666a" stroke-width="1.4" stroke-linejoin="round"/>
<polygon points="333.7,463.4 335.1,463.1 526.9,370.3 525.5,370.6" fill="#236969" stroke="#236969" stroke-width="1.4" stroke-linejoin="round"/>
<polygon points="335.1,463.1 336.5,462.9 528.3,370.0 526.9,370.3" fill="#246c69" stroke="#246c69" stroke-width="1.4" stroke-linejoin="round"/>
<polygon points="336.5,462.9 338.0,462.6 529.8,369.7 528.3,370.0" fill="#256f68" stroke="#256f68" stroke-width="1.4" stroke-linejoin="round"/>
<polygon points="338.0,462.6 339.4,462.4 531.2,369.3 529.8,369.7" fill="#277168" stroke="#277168" stroke-width="1.4" stroke-linejoin="round"/>
<polygon points="339.4,462.4 340.8,462.1 532.7,369.0 531.2,369.3" fill="#287367" stroke="#287367" stroke-width="1.4" stroke-linejoin="round"/>
<polygon points="340.8,462.1 342.3,461.9 534.1,368.7 532.7,369.0" fill="#297567" stroke="#297567" stroke-width="1.4" stroke-linejoin="round"/>
<polygon points="342.3,461.9 343.7,461.6 535.6,368.3 534.1,368.7" fill="#2b7866" stroke="#2b7866" stroke-width="1.4" stroke-linejoin="round"/>
<polygon points="343.7,461.6 345.2,461.4 537.0,368.0 535.6,368.3" fill="#2c7a66" stroke="#2c7a66" stroke-width="1.4" stroke-linejoin="round"/>
<polygon points="345.2,461.4 346.6,461.1 538.5,367.7 537.0,368.0" fill="#2d7c66" stroke="#2d7c66" stroke-width="1.4" stroke-linejoin="round"/>
<polygon points="346.6,461.1 348.1,460.9 540.0,367.4 538.5,367.7" fill="#2e7e65" stroke="#2e7e65" stroke-width="1.4" stroke-linejoin="round"/>
<polygon points="348.1,460.9 349.5,460.6 541.5,367.0 540.0,367.4" fill="#308065" stroke="#308065" stroke-width="1.4" stroke-linejoin="round"/>
<polygon points="349.5,460.6 351.0,460.4 542.9,366.7 541.5,367.0" fill="#318365" stroke="#318365" stroke-width="1.4" stroke-linejoin="round"/>
<polygon points="351.0,460.4 352.5,460.1 544.4,366.4 542.9,366.7" fill="#328564" stroke="#328564" stroke-width="1.4" stroke-linejoin="round"/>
<polygon points="352.5,460.1 354.0,459.9 545.9,366.0 544.4,366.4" fill="#348764" stroke="#348764" stroke-width="1.4" stroke-linejoin="round"/>
<polygon points="354.0,459.9 355.4,459.6 547.4,365.7 545.9,366.0" fill="#358863" stroke="#358863" stroke-width="1.4" stroke-linejoin="round"/>
<polygon points="355.4,459.6 356.9,459.4 548.9,365.4 547.4,365.7" fill="#368963" stroke="#368963" stroke-width="1.4" stroke-linejoin="round"/>
<polygon points="356.9,459.4 358.4,459.1 550.4,365.1 548.9,365.4" fill="#378a63" stroke="#378a63" stroke-width="1.4" stroke-linejoin="round"/>
<polygon points="358.4,459.1 359.9,458.9 551.8,364.7 550.4,365.1" fill="#388b62" stroke="#388b62" stroke-width="1.4" stroke-linejoin="round"/>
<polygon points="359.9,458.9 361.4,458.6 553.3,364.4 551.8,364.7" fill="#398c62" stroke="#398c62" stroke-width="1.4" stroke-linejoin="round"/>
<polygon points="361.4,458.6 362.9,458.4 554.8,364.1 553.3,364.4" fill="#3a8d62" stroke="#3a8d62" stroke-width="1.4" stroke-linejoin="round"/>
<polygon points="362.9,458.4 364.4,458.2 556.4,363.8 554.8,364.1" fill="#3b8e61" stroke="#3b8e61" stroke-width="1.4" stroke-linejoin="round"/>
<polygon points="364.4,458.2 365.9,457.9 557.9,363.5 556.4,363.8" fill="#3d8f61" stroke="#3d8f61" stroke-width="1.4" stroke-linejoin="round"/>
<polygon points="365.9,457.9 367.5,457.7 559.4,363.2 557.9,363.5" fill="#3e9060" stroke="#3e9060" stroke-width="1.4" stroke-linejoin="round"/>
<polygon points="367.5,457.7 369.0,457.5 560.9,362.9 559.4,363.2" fill="#3f9160" stroke="#3f9160" stroke-width="1.4" stroke-linejoin="round"/>
<polygon points="369.0,457.5 370.5,457.2 562.4,362.6 560.9,362.9" fill="#409260" stroke="#409260" stroke-width="1.4" stroke-linejoin="round"/>
<polygon points="370.5,457.2 372.0,457.0 563.9,362.3 562.4,362.6" fill="#41935f" stroke="#41935f" stroke-width="1.4" stroke-linejoin="round"/>
<polygon points="372.0,457.0 373.6,456.8 565.4,362.0 563.9,362.3" fill="#42945f" stroke="#42945f" stroke-width="1.4" stroke-linejoin="round"/>
<polygon points="373.6,456.8 375.1,456.6 567.0,361.7 565.4,362.0" fill="#43955f" stroke="#43955f" stroke-width="1.4" stroke-linejoin="round"/>
<polygon points="375.1,456.6 376.7,456.4 568.5,361.4 567.0,361.7" fill="#45965f" stroke="#45965f" stroke-width="1.4" stroke-linejoin="round"/>
<polygon points="376.7,456.4 378.2,456.2 570.0,361.1 568.5,361.4" fill="#46975f" stroke="#46975f" stroke-width="1.4" stroke-linejoin="round"/>
<polygon points="378.2,456.2 379.8,456.0 571.6,360.8 570.0,361.1" fill="#47985f" stroke="#47985f" stroke-width="1.4" stroke-linejoin="round"/>
<polygon points="379.8,456.0 381.3,455.8 573.1,360.5 571.6,360.8" fill="#48995f" stroke="#48995f" stroke-width="1.4" stroke-linejoin="round"/>
<polygon points="381.3,455.8 382.9,455.6 574.7,360.3 573.1,360.5" fill="#4a9a5f" stroke="#4a9a5f" stroke-width="1.4" stroke-linejoin="round"/>
<polygon points="382.9,455.6 384.5,455.4 576.2,360.0 574.7,360.3" fill="#4b9b5e" stroke="#4b9b5e" stroke-width="1.4" stroke-linejoin="round"/>
<polygon points="384.5,455.4 386.0,455.2 577.7,359.7 576.2,360.0" fill="#4c9c5e" stroke="#4c9c5e" stroke-width="1.4" stroke-linejoin="round"/>
<polygon points="386.0,455.2 387.6,455.0 579.3,359.5 577.7,359.7" fill="#4d9d5e" stroke="#4d9d5e" stroke-width="1.4" stroke-linejoin="round"/>
<polygon points="387.6,455.0 389.2,454.9 580.9,359.2 579.3,359.5" fill="#4e9e5e" stroke="#4e9e5e" stroke-width="1.4" stroke-linejoin="round"/>
<polygon points="389.2,454.9 390.8,454.7 579.2,360.6 580.9,359.2" fill="#509f5e" stroke="#509f5e" stroke-width="1.4" stroke-linejoin="round"/>
<polygon points="390.8,454.7 392.4,454.5 577.5,361.9 579.2,360.6" fill="#51a05e" stroke="#51a05e" stroke-width="1.4" stroke-linejoin="round"/>
<polygon points="392.4,454.5 394.0,454.4 575.8,363.3 577.5,361.9" fill="#52a15e" stroke="#52a15e" stroke-width="1.4" stroke-linejoin="round"/>
<polygon points="394.0,454.4 395.6,454.2 574.1,364.7 575.8,363.3" fill="#55a25e" stroke="#55a25e" stroke-width="1.4" stroke-linejoin="round"/>
<polygon points="395.6,454.2 397.2,454.1 572.4,366.2 574.1,364.7" fill="#58a45d" stroke="#58a45d" stroke-width="1.4" stroke-linejoin="round"/>
<polygon points="397.2,454.1 398.8,454.0 570.6,367.6 572.4,366.2" fill="#5aa55d" stroke="#5aa55d" stroke-width="1.4" stroke-linejoin="round"/>
<polygon points="398.8,454.0 400.4,453.8 568.9,369.1 570.6,367.6" fill="#5da75c" stroke="#5da75c" stroke-width="1.4" stroke-linejoin="round"/>
<polygon points="400.4,453.8 402.0,453.7 567.1,370.6 568.9,369.1" fill="#60a85c" stroke="#60a85c" stroke-width="1.4" stroke-linejoin="round"/>
<polygon points="402.0,453.7 403.6,453.6 565.3,372.1 567.1,370.6" fill="#63aa5b" stroke="#63aa5b" stroke-width="1.4" stroke-linejoin="round"/>
<polygon points="403.6,453.6 405.2,453.5 563.5,373.6 565.3,372.1" fill="#65ab5b" stroke="#65ab5b" stroke-width="1.4" stroke-linejoin="round"/>
<polygon points="405.2,453.5 406.9,453.4 561.6,375.1 563.5,373.6" fill="#68ad5a" stroke="#68ad5a" stroke-width="1.4" stroke-linejoin="round"/>
<polygon points="406.9,453.4 408.5,453.3 559.8,376.7 561.6,375.1" fill="#6aae5a" stroke="#6aae5a" stroke-width="1.4" stroke-linejoin="round"/>
<polygon points="408.5,453.3 410.1,453.2 557.9,378.3 559.8,376.7" fill="#6daf59" stroke="#6daf59" stroke-width="1.4" stroke-linejoin="round"/>
<polygon points="410.1,453.2 411.8,453.1 556.0,379.9 557.9,378.3" fill="#70b159" stroke="#70b159" stroke-width="1.4" stroke-linejoin="round"/>
<polygon points="411.8,453.1 413.4,453.0 554.1,381.5 556.0,379.9" fill="#73b258" stroke="#73b258" stroke-width="1.4" stroke-linejoin="round"/>
<polygon points="413.4,453.0 415.1,452.9 552.2,383.2 554.1,381.5" fill="#76b358" stroke="#76b358" stroke-width="1.4" stroke-linejoin="round"/>
<polygon points="415.1,452.9 416.7,452.9 550.3,384.8 552.2,383.2" fill="#79b558" stroke="#79b558" stroke-width="1.4" stroke-linejoin="round"/>
<polygon points="416.7,452.9 418.4,452.8 548.3,386.5 550.3,384.8" fill="#7cb658" stroke="#7cb658" stroke-width="1.4" stroke-linejoin="round"/>
<polygon points="418.4,452.8 420.1,452.8 546.3,388.3 548.3,386.5" fill="#7fb757" stroke="#7fb757" stroke-width="1.4" stroke-linejoin="round"/>
<polygon points="420.1,452.8 421.7,452.7 544.3,390.0 546.3,388.3" fill="#82b857" stroke="#82b857" stroke-width="1.4" stroke-linejoin="round"/>
<polygon points="421.7,452.7 423.4,452.7 542.3,391.8 544.3,390.0" fill="#85ba57" stroke="#85ba57" stroke-width="1.4" stroke-linejoin="round"/>
<polygon points="423.4,452.7 425.1,452.6 540.3,393.6 542.3,391.8" fill="#88bb56" stroke="#88bb56" stroke-width="1.4" stroke-linejoin="round"/>
<polygon points="425.1,452.6 426.8,452.6 538.2,395.4 540.3,393.6" fill="#8bbc56" stroke="#8bbc56" stroke-width="1.4" stroke-linejoin="round"/>
<polygon points="426.8,452.6 428.5,452.6 536.1,397.2 538.2,395.4" fill="#8dbd56" stroke="#8dbd56" stroke-width="1.4" stroke-linejoin="round"/>
<polygon points="428.5,452.6 430.1,452.6 534.0,399.1 536.1,397.2" fill="#90be55" stroke="#90be55" stroke-width="1.4" stroke-linejoin="round"/>
<polygon points="430.1,452.6 431.8,452.6 531.9,400.9 534.0,399.1" fill="#93c055" stroke="#93c055" stroke-width="1.4" stroke-linejoin="round"/>
<polygon points="431.8,452.6 433.5,452.6 529.7,402.9 531.9,400.9" fill="#96c155" stroke="#96c155" stroke-width="1.4" stroke-linejoin="round"/>
<polygon points="433.5,452.6 435.2,452.6 527.6,404.8 529.7,402.9" fill="#9bc355" stroke="#9bc355" stroke-width="1.4" stroke-linejoin="round"/>
<polygon points="435.2,452.6 436.9,452.6 525.4,406.8 527.6,404.8" fill="#9fc454" stroke="#9fc454" stroke-width="1.4" stroke-linejoin="round"/>
<polygon points="436.9,452.6 438.7,452.6 523.2,408.7 525.4,406.8" fill="#a3c654" stroke="#a3c654" stroke-width="1.4" stroke-linejoin="round"/>
<polygon points="438.7,452.6 440.4,452.6 520.9,410.8 523.2,408.7" fill="#a7c754" stroke="#a7c754" stroke-width="1.4" stroke-linejoin="round"/>
<polygon points="440.4,452.6 442.1,452.7 518.7,412.8 520.9,410.8" fill="#aac953" stroke="#aac953" stroke-width="1.4" stroke-linejoin="round"/>
<polygon points="442.1,452.7 443.8,452.7 516.4,414.9 518.7,412.8" fill="#aecb53" stroke="#aecb53" stroke-width="1.4" stroke-linejoin="round"/>
<polygon points="443.8,452.7 445.5,452.8 514.1,417.0 516.4,414.9" fill="#b2cc53" stroke="#b2cc53" stroke-width="1.4" stroke-linejoin="round"/>
<polygon points="445.5,452.8 447.3,452.8 511.7,419.1 514.1,417.0" fill="#b6cd52" stroke="#b6cd52" stroke-width="1.4" stroke-linejoin="round"/>
<polygon points="447.3,452.8 449.0,452.9 509.4,421.2 511.7,419.1" fill="#b9cf52" stroke="#b9cf52" stroke-width="1.4" stroke-linejoin="round"/>
<polygon points="449.0,452.9 450.7,453.0 507.0,423.4 509.4,421.2" fill="#bdd052" stroke="#bdd052" stroke-width="1.4" stroke-linejoin="round"/>
<polygon points="450.7,453.0 452.5,453.0 504.6,425.6 507.0,423.4" fill="#c1d252" stroke="#c1d252" stroke-width="1.4" stroke-linejoin="round"/>
<polygon points="452.5,453.0 454.2,453.1 502.2,427.9 504.6,425.6" fill="#c5d351" stroke="#c5d351" stroke-width="1.4" stroke-linejoin="round"/>
<polygon points="454.2,453.1 456.0,453.2 499.7,430.1 502.2,427.9" fill="#c9d551" stroke="#c9d551" stroke-width="1.4" stroke-linejoin="round"/>
<polygon points="456.0,453.2 457.7,453.3 497.2,432.4 499.7,430.1" fill="#cdd651" stroke="#cdd651" stroke-width="1.4" stroke-linejoin="round"/>
<polygon points="457.7,453.3 459.5,453.4 494.7,434.7 497.2,432.4" fill="#d1d751" stroke="#d1d751" stroke-width="1.4" stroke-linejoin="round"/>
<polygon points="459.5,453.4 461.3,453.5 492.2,437.1 494.7,434.7" fill="#d4d950" stroke="#d4d950" stroke-width="1.4" stroke-linejoin="round"/>
<polygon points="461.3,453.5 463.0,453.6 489.6,439.5 492.2,437.1" fill="#d8da50" stroke="#d8da50" stroke-width="1.4" stroke-linejoin="round"/>
<polygon points="463.0,453.6 464.8,453.8 487.1,441.9 489.6,439.5" fill="#dadb50" stroke="#dadb50" stroke-width="1.4" stroke-linejoin="round"/>
<polygon points="464.8,453.8 466.6,453.9 484.4,444.3 487.1,441.9" fill="#dddd50" stroke="#dddd50" stroke-width="1.4" stroke-linejoin="round"/>
<polygon points="466.6,453.9 468.3,454.0 481.8,446.8 484.4,444.3" fill="#dfde50" stroke="#dfde50" stroke-width="1.4" stroke-linejoin="round"/>
<polygon points="468.3,454.0 470.1,454.2 479.1,449.3 481.8,446.8" fill="#e2df50" stroke="#e2df50" stroke-width="1.4" stroke-linejoin="round"/>
<polygon points="470.1,454.2 471.9,454.3 476.4,451.9 479.1,449.3" fill="#e4e150" stroke="#e4e150" stroke-width="1.4" stroke-linejoin="round"/>
<polygon points="471.9,454.3 473.7,454.5 473.7,454.5 476.4,451.9" fill="#e6e250" stroke="#e6e250" stroke-width="1.4" stroke-linejoin="round"/>
<path d="M238.11 442.08 L242.16 438.70 L246.17 435.36 L250.14 432.06 L254.07 428.81 L257.97 425.59 L261.84 422.41 L265.67 419.26 L269.46 416.16 L273.22 413.09 L276.95 410.05 L280.64 407.06 L284.31 404.09 L287.93 401.17 L291.53 398.27 L295.09 395.41 L298.62 392.59 L302.12 389.79 L305.59 387.03 L309.03 384.30 L312.44 381.60 L315.82 378.93 L319.17 376.28 L322.48 373.67 L325.77 371.09 L329.04 368.54 L332.27 366.01 L335.47 363.52 L338.65 361.05 L341.80 358.60 L344.92 356.19 L348.02 353.80 L351.09 351.43 L354.13 349.09 L357.15 346.78 L360.14 344.49 L363.10 342.22 L366.04 339.98 L368.96 337.76 L371.85 335.56 L374.72 333.38 M252.61 449.87 L256.59 446.36 L260.53 442.90 L264.43 439.49 L268.30 436.11 L272.14 432.77 L275.94 429.48 L279.71 426.22 L283.44 423.00 L287.14 419.82 L290.81 416.68 L294.44 413.57 L298.05 410.50 L301.62 407.47 L305.16 404.47 L308.67 401.51 L312.14 398.58 L315.59 395.69 L319.01 392.83 L322.39 390.00 L325.75 387.21 L329.08 384.45 L332.38 381.71 L335.65 379.02 L338.89 376.35 L342.10 373.71 L345.29 371.10 L348.45 368.52 L351.58 365.97 L354.68 363.45 L357.76 360.95 L360.81 358.48 L363.84 356.04 L366.84 353.63 L369.81 351.24 L372.76 348.88 L375.68 346.55 L378.58 344.23 L381.46 341.95 L384.31 339.69 L387.14 337.45 M267.29 458.34 L271.20 454.71 L275.07 451.13 L278.91 447.59 L282.71 444.09 L286.48 440.63 L290.21 437.21 L293.92 433.83 L297.59 430.49 L301.23 427.19 L304.83 423.93 L308.41 420.71 L311.95 417.53 L315.46 414.38 L318.94 411.27 L322.40 408.20 L325.82 405.16 L329.21 402.16 L332.57 399.20 L335.90 396.27 L339.21 393.37 L342.48 390.51 L345.73 387.68 L348.95 384.88 L352.14 382.11 L355.31 379.38 L358.44 376.68 L361.56 374.00 L364.64 371.36 L367.70 368.75 L370.73 366.17 L373.73 363.62 L376.71 361.09 L379.67 358.60 L382.60 356.13 L385.51 353.69 L388.39 351.27 L391.24 348.89 L394.08 346.52 L396.89 344.19 L399.67 341.88 M282.13 467.50 L285.97 463.75 L289.77 460.04 L293.53 456.37 L297.27 452.75 L300.97 449.17 L304.64 445.62 L308.27 442.12 L311.88 438.66 L315.45 435.24 L319.00 431.86 L322.51 428.52 L325.99 425.22 L329.44 421.95 L332.87 418.72 L336.26 415.54 L339.62 412.38 L342.96 409.27 L346.26 406.19 L349.54 403.15 L352.79 400.14 L356.02 397.17 L359.21 394.23 L362.38 391.32 L365.52 388.45 L368.63 385.62 L371.72 382.81 L374.78 380.04 L377.82 377.30 L380.83 374.59 L383.81 371.91 L386.77 369.26 L389.71 366.65 L392.61 364.06 L395.50 361.50 L398.36 358.97 L401.20 356.47 L404.01 353.99 L406.80 351.55 L409.57 349.13 L412.31 346.74 M296.12 469.15 L300.08 466.68 L304.00 464.23 L307.86 461.80 L311.68 459.40 L315.45 457.01 L319.18 454.65 L322.75 451.09 L326.29 447.51 L329.80 443.96 L333.28 440.46 L336.73 437.00 L340.15 433.58 L343.54 430.20 L346.90 426.85 L350.24 423.54 L353.54 420.27 L356.82 417.04 L360.07 413.84 L363.29 410.68 L366.49 407.56 L369.65 404.47 L372.80 401.42 L375.91 398.41 L379.00 395.42 L382.06 392.48 L385.10 389.56 L388.11 386.68 L391.10 383.83 L394.06 381.02 L396.99 378.24 L399.91 375.49 L402.79 372.77 L405.66 370.08 L408.50 367.42 L411.31 364.79 L414.11 362.20 L416.88 359.63 L419.62 357.09 L422.35 354.58 L425.05 352.10 M310.03 467.31 L313.97 464.87 L317.86 462.46 L321.70 460.07 L325.49 457.71 L329.23 455.36 L332.93 453.04 L336.59 450.74 L340.20 448.46 L343.77 446.19 L347.30 443.95 L350.78 441.72 L354.23 439.51 L357.64 437.32 L361.00 435.15 L364.30 432.21 L367.55 428.82 L370.77 425.47 L373.96 422.16 L377.12 418.89 L380.26 415.65 L383.38 412.45 L386.46 409.28 L389.52 406.15 L392.56 403.05 L395.57 399.99 L398.56 396.96 L401.52 393.97 L404.45 391.01 L407.37 388.09 L410.25 385.19 L413.12 382.33 L415.96 379.51 L418.78 376.71 L421.57 373.95 L424.34 371.22 L427.09 368.51 L429.81 365.84 L432.52 363.20 L435.20 360.59 L437.86 358.01 M324.31 465.02 L328.22 462.60 L332.08 460.21 L335.88 457.84 L339.65 455.50 L343.36 453.18 L347.03 450.89 L350.66 448.62 L354.24 446.38 L357.77 444.15 L361.27 441.95 L364.72 439.76 L368.14 437.60 L371.51 435.45 L374.84 433.32 L378.14 431.21 L381.39 429.12 L384.61 427.04 L387.80 424.98 L390.95 422.93 L394.06 420.90 L397.14 418.88 L400.18 416.88 L403.19 414.54 L406.18 411.33 L409.13 408.15 L412.07 405.02 L414.98 401.91 L417.87 398.84 L420.73 395.80 L423.57 392.80 L426.38 389.83 L429.18 386.89 L431.95 383.99 L434.69 381.11 L437.42 378.27 L440.12 375.46 L442.80 372.68 L445.46 369.94 L448.10 367.22 L450.72 364.54 M339.00 462.45 L342.87 460.03 L346.70 457.63 L350.47 455.27 L354.20 452.93 L357.88 450.62 L361.51 448.34 L365.10 446.09 L368.65 443.86 L372.15 441.65 L375.61 439.47 L379.02 437.31 L382.40 435.17 L385.74 433.06 L389.03 430.96 L392.29 428.89 L395.51 426.83 L398.69 424.80 L401.83 422.78 L404.94 420.77 L408.02 418.79 L411.06 416.82 L414.06 414.87 L417.03 412.93 L419.97 411.00 L422.88 409.09 L425.76 407.20 L428.60 405.31 L431.42 403.44 L434.20 401.58 L436.95 399.74 L439.68 397.90 L442.42 394.91 L445.15 391.90 L447.85 388.92 L450.53 385.97 L453.19 383.05 L455.82 380.17 L458.44 377.31 L461.03 374.49 L463.61 371.70 M354.14 459.82 L357.98 457.36 L361.76 454.94 L365.50 452.55 L369.18 450.19 L372.82 447.86 L376.42 445.57 L379.96 443.30 L383.47 441.07 L386.93 438.86 L390.35 436.68 L393.72 434.52 L397.06 432.39 L400.35 430.29 L403.61 428.21 L406.83 426.15 L410.00 424.12 L413.14 422.10 L416.25 420.11 L419.31 418.13 L422.35 416.18 L425.34 414.24 L428.31 412.33 L431.23 410.43 L434.13 408.54 L436.99 406.67 L439.83 404.82 L442.63 402.98 L445.40 401.16 L448.14 399.35 L450.85 397.56 L453.53 395.77 L456.18 394.00 L458.81 392.24 L461.41 390.50 L463.98 388.76 L466.52 387.03 L469.04 385.32 L471.54 383.61 L474.01 381.92 L476.50 379.48 M369.77 457.34 L373.56 454.82 L377.30 452.34 L380.99 449.90 L384.63 447.49 L388.22 445.12 L391.77 442.78 L395.28 440.48 L398.74 438.21 L402.15 435.98 L405.52 433.77 L408.86 431.60 L412.15 429.45 L415.40 427.33 L418.61 425.24 L421.78 423.18 L424.91 421.14 L428.00 419.12 L431.06 417.13 L434.08 415.17 L437.07 413.22 L440.02 411.30 L442.94 409.40 L445.82 407.52 L448.67 405.66 L451.49 403.82 L454.28 401.99 L457.03 400.18 L459.75 398.39 L462.45 396.62 L465.11 394.86 L467.75 393.12 L470.35 391.39 L472.93 389.67 L475.48 387.97 L478.00 386.28 L480.50 384.61 L482.97 382.94 L485.42 381.29 L487.84 379.65 L490.24 378.01 M385.90 455.24 L389.64 452.63 L393.32 450.07 L396.96 447.54 L400.55 445.06 L404.10 442.62 L407.60 440.22 L411.05 437.85 L414.46 435.52 L417.83 433.23 L421.15 430.97 L424.43 428.74 L427.68 426.55 L430.88 424.39 L434.04 422.27 L437.16 420.17 L440.24 418.10 L443.29 416.06 L446.30 414.05 L449.27 412.07 L452.21 410.11 L455.11 408.18 L457.98 406.27 L460.82 404.38 L463.62 402.52 L466.39 400.68 L469.12 398.86 L471.83 397.07 L474.50 395.29 L477.15 393.53 L479.76 391.79 L482.35 390.07 L484.91 388.36 L487.43 386.67 L489.94 385.00 L492.41 383.35 L494.86 381.70 L497.28 380.08 L499.67 378.46 L502.04 376.86 L504.39 375.27 M402.53 453.67 L406.21 450.96 L409.84 448.29 L413.42 445.67 L416.96 443.09 L420.45 440.55 L423.89 438.06 L427.29 435.60 L430.65 433.19 L433.96 430.82 L437.23 428.48 L440.46 426.19 L443.65 423.92 L446.80 421.70 L449.91 419.51 L452.98 417.35 L456.01 415.23 L459.01 413.14 L461.97 411.08 L464.89 409.05 L467.78 407.05 L470.63 405.08 L473.44 403.14 L476.23 401.22 L478.98 399.33 L481.70 397.47 L484.38 395.63 L487.04 393.82 L489.66 392.03 L492.25 390.26 L494.82 388.52 L497.35 386.80 L499.86 385.09 L502.34 383.41 L504.79 381.74 L507.21 380.10 L509.60 378.47 L511.97 376.86 L514.32 375.27 L516.63 373.69 L518.93 372.12 M419.65 452.77 L423.26 449.93 L426.83 447.15 L430.36 444.41 L433.83 441.72 L437.26 439.07 L440.65 436.47 L443.99 433.91 L447.29 431.40 L450.55 428.92 L453.76 426.49 L456.93 424.10 L460.07 421.75 L463.16 419.43 L466.22 417.16 L469.23 414.92 L472.21 412.72 L475.15 410.55 L478.06 408.42 L480.92 406.32 L483.76 404.26 L486.56 402.22 L489.32 400.22 L492.05 398.25 L494.75 396.31 L497.41 394.40 L500.05 392.52 L502.65 390.66 L505.22 388.84 L507.76 387.03 L510.27 385.26 L512.76 383.51 L515.21 381.78 L517.63 380.08 L520.03 378.40 L522.40 376.74 L524.74 375.10 L527.06 373.48 L529.35 371.88 L531.62 370.30 L533.86 368.74 M437.23 452.60 L440.78 449.63 L444.28 446.72 L447.74 443.86 L451.15 441.05 L454.52 438.28 L457.85 435.56 L461.13 432.88 L464.36 430.25 L467.56 427.67 L470.72 425.12 L473.83 422.62 L476.90 420.16 L479.94 417.75 L482.94 415.37 L485.89 413.03 L488.82 410.73 L491.70 408.47 L494.55 406.25 L497.36 404.06 L500.14 401.91 L502.88 399.79 L505.59 397.71 L508.27 395.67 L510.91 393.65 L513.53 391.67 L516.10 389.72 L518.65 387.80 L521.17 385.91 L523.66 384.05 L526.12 382.22 L528.55 380.41 L530.95 378.64 L533.32 376.89 L535.66 375.16 L537.98 373.46 L540.27 371.79 L542.53 370.14 L544.77 368.51 L546.98 366.91 L549.17 365.33 M455.25 453.17 L458.73 450.08 L462.17 447.04 L465.56 444.05 L468.90 441.11 L472.20 438.22 L475.46 435.37 L478.68 432.57 L481.85 429.82 L484.98 427.12 L488.07 424.46 L491.13 421.84 L494.14 419.26 L497.11 416.73 L500.05 414.24 L502.95 411.80 L505.81 409.39 L508.63 407.02 L511.42 404.69 L514.18 402.40 L516.90 400.15 L519.59 397.94 L522.24 395.76 L524.86 393.62 L527.45 391.51 L530.00 389.44 L532.53 387.40 L535.02 385.40 L537.49 383.42 L539.92 381.48 L542.32 379.58 L544.70 377.70 L547.05 375.85 L549.36 374.03 L551.65 372.25 L553.92 370.49 L556.16 368.75 L558.37 367.05 L560.55 365.37 L562.71 363.71 L564.84 362.08 M234.03 426.87 L235.43 427.52 L236.84 428.19 L238.25 428.86 L239.66 429.53 L241.07 430.21 L242.48 430.90 L243.90 431.59 L245.32 432.29 L246.74 433.00 L248.16 433.71 L249.58 434.43 L251.01 435.15 L252.44 435.88 L253.87 436.62 L255.30 437.37 L256.73 438.12 L258.17 438.88 L259.60 439.64 L261.04 440.41 L262.49 441.19 L263.93 441.98 L265.37 442.77 L266.82 443.57 L268.27 444.37 L269.72 445.19 L271.17 446.01 L272.62 446.83 L274.08 447.67 L275.53 448.51 L276.99 449.35 L278.45 450.21 L279.91 451.07 L281.38 451.94 L282.84 452.81 L284.31 453.69 L285.77 454.58 L287.24 455.48 L288.71 456.38 L290.18 457.29 L291.66 458.20 L293.13 459.12 L294.60 460.05 L296.08 460.99 L297.56 461.93 L299.03 462.88 L300.13 463.59 L300.48 463.55 L301.84 463.43 L303.20 463.30 L304.57 463.16 L305.93 463.02 L307.30 462.87 L308.68 462.71 L310.05 462.55 L311.43 462.38 L312.82 462.21 L314.20 462.03 L315.59 461.85 L316.99 461.66 L318.38 461.46 L319.78 461.26 L321.19 461.06 L322.59 460.85 L324.00 460.64 L325.42 460.42 L326.84 460.19 L328.26 459.97 L329.69 459.74 L331.11 459.50 L332.55 459.26 L333.99 459.02 L335.43 458.77 L336.87 458.53 L338.32 458.27 L339.78 458.02 L341.23 457.76 L342.70 457.50 L344.16 457.24 L345.63 456.98 L347.11 456.71 L348.59 456.45 L350.07 456.18 L351.56 455.91 L353.05 455.64 L354.55 455.37 L356.05 455.09 L357.56 454.82 L359.07 454.55 L360.59 454.28 L362.11 454.01 L363.63 453.74 L365.16 453.47 L366.70 453.20 L368.24 452.93 L369.78 452.67 L371.33 452.40 L372.88 452.14 L374.44 451.88 L376.01 451.62 L377.58 451.37 L379.15 451.12 L380.73 450.87 L382.31 450.62 L383.90 450.38 L385.49 450.14 L387.09 449.91 L388.69 449.68 L390.30 449.45 L391.91 449.23 L393.53 449.01 L395.15 448.80 L396.78 448.59 L398.41 448.39 L400.05 448.19 L401.69 448.00 L403.33 447.81 L404.98 447.63 L406.64 447.46 L408.30 447.29 L409.97 447.13 L411.64 446.97 L413.31 446.82 L414.99 446.68 L416.68 446.54 L418.37 446.41 L420.06 446.29 L421.76 446.17 L423.46 446.06 L425.17 445.96 L426.88 445.86 L428.60 445.77 L430.32 445.69 L432.05 445.62 L433.78 445.55 L435.51 445.49 L437.25 445.44 L439.00 445.39 L440.75 445.36 L442.50 445.32 L444.26 445.30 L446.02 445.29 L447.78 445.28 L449.55 445.28 L451.33 445.28 L453.11 445.30 L454.89 445.32 L456.68 445.35 L458.47 445.39 L460.26 445.43 L462.06 445.48 L463.87 445.54 L465.68 445.60 L467.49 445.68 L469.30 445.76 L471.12 445.84 L472.95 445.94 L474.78 446.04 L476.61 446.15 L478.44 446.27 L480.28 446.39 L482.13 446.52 M244.00 419.02 L245.39 419.65 L246.78 420.29 L248.17 420.93 L249.57 421.58 L250.96 422.23 L252.36 422.89 L253.76 423.55 L255.16 424.23 L256.57 424.90 L257.97 425.59 L259.38 426.28 L260.79 426.97 L262.20 427.68 L263.62 428.38 L265.03 429.10 L266.45 429.82 L267.87 430.55 L269.29 431.28 L270.71 432.02 L272.14 432.77 L273.57 433.53 L274.99 434.29 L276.42 435.06 L277.86 435.83 L279.29 436.61 L280.72 437.40 L282.16 438.20 L283.60 439.00 L285.04 439.81 L286.48 440.63 L287.92 441.45 L289.37 442.28 L290.81 443.12 L292.26 443.96 L293.71 444.81 L295.16 445.67 L296.61 446.53 L298.06 447.40 L299.51 448.28 L300.97 449.17 L302.42 450.06 L303.88 450.95 L305.34 451.86 L306.80 452.77 L308.26 453.69 L309.72 454.61 L311.19 455.54 L312.65 456.48 L313.74 457.18 L314.09 457.15 L315.45 457.01 L316.81 456.87 L318.18 456.73 L319.55 456.58 L320.92 456.42 L322.30 456.26 L323.68 456.09 L325.06 455.92 L326.45 455.74 L327.84 455.55 L329.23 455.36 L330.63 455.17 L332.03 454.96 L333.43 454.76 L334.84 454.55 L336.25 454.33 L337.67 454.11 L339.08 453.89 L340.51 453.66 L341.93 453.42 L343.36 453.18 L344.80 452.94 L346.23 452.70 L347.67 452.45 L349.12 452.20 L350.57 451.94 L352.02 451.68 L353.48 451.42 L354.94 451.16 L356.41 450.89 L357.88 450.62 L359.35 450.35 L360.83 450.08 L362.31 449.81 L363.80 449.53 L365.29 449.25 L366.79 448.98 L368.29 448.70 L369.80 448.42 L371.31 448.14 L372.82 447.86 L374.34 447.58 L375.87 447.31 L377.39 447.03 L378.93 446.75 L380.46 446.48 L382.01 446.20 L383.55 445.93 L385.11 445.66 L386.66 445.39 L388.22 445.12 L389.79 444.86 L391.36 444.59 L392.94 444.34 L394.52 444.08 L396.10 443.83 L397.69 443.58 L399.29 443.33 L400.89 443.09 L402.49 442.85 L404.10 442.62 L405.71 442.39 L407.33 442.16 L408.95 441.95 L410.58 441.73 L412.21 441.52 L413.85 441.32 L415.49 441.12 L417.14 440.92 L418.79 440.73 L420.45 440.55 L422.11 440.38 L423.77 440.20 L425.44 440.04 L427.12 439.88 L428.80 439.73 L430.48 439.59 L432.17 439.45 L433.86 439.32 L435.56 439.19 L437.26 439.07 L438.97 438.96 L440.68 438.86 L442.39 438.76 L444.11 438.67 L445.84 438.59 L447.57 438.51 L449.30 438.44 L451.04 438.38 L452.78 438.33 L454.52 438.28 L456.27 438.24 L458.03 438.21 L459.78 438.18 L461.55 438.17 L463.31 438.16 L465.08 438.15 L466.86 438.16 L468.63 438.17 L470.42 438.19 L472.20 438.22 L473.99 438.25 L475.79 438.29 L477.59 438.34 L479.39 438.40 L481.20 438.46 L483.01 438.53 L484.82 438.61 L486.64 438.69 L488.46 438.79 L490.28 438.88 M253.75 411.41 L255.12 412.01 L256.50 412.62 L257.87 413.24 L259.25 413.86 L260.63 414.48 L262.02 415.12 L263.40 415.76 L264.79 416.40 L266.18 417.05 L267.57 417.71 L268.96 418.37 L270.36 419.04 L271.75 419.71 L273.15 420.39 L274.55 421.08 L275.95 421.77 L277.36 422.47 L278.76 423.17 L280.17 423.89 L281.58 424.60 L282.99 425.33 L284.40 426.06 L285.82 426.80 L287.23 427.54 L288.65 428.30 L290.07 429.05 L291.49 429.82 L292.91 430.59 L294.33 431.37 L295.76 432.16 L297.18 432.95 L298.61 433.75 L300.04 434.55 L301.47 435.37 L302.90 436.19 L304.34 437.01 L305.77 437.85 L307.21 438.69 L308.64 439.53 L310.08 440.39 L311.52 441.25 L312.96 442.12 L314.40 442.99 L315.85 443.87 L317.29 444.76 L318.74 445.65 L320.18 446.55 L321.63 447.46 L323.08 448.37 L324.53 449.29 L325.98 450.22 L327.05 450.91 L327.40 450.87 L328.77 450.74 L330.13 450.59 L331.50 450.44 L332.88 450.28 L334.25 450.12 L335.63 449.95 L337.02 449.77 L338.40 449.59 L339.79 449.41 L341.18 449.22 L342.58 449.02 L343.98 448.82 L345.38 448.61 L346.79 448.40 L348.20 448.18 L349.61 447.96 L351.03 447.73 L352.45 447.50 L353.88 447.26 L355.31 447.02 L356.74 446.78 L358.18 446.53 L359.62 446.28 L361.06 446.02 L362.51 445.76 L363.96 445.50 L365.42 445.24 L366.88 444.97 L368.34 444.70 L369.81 444.42 L371.29 444.15 L372.76 443.87 L374.25 443.59 L375.73 443.31 L377.22 443.03 L378.72 442.75 L380.22 442.46 L381.72 442.18 L383.23 441.90 L384.74 441.61 L386.26 441.32 L387.78 441.04 L389.31 440.75 L390.84 440.47 L392.38 440.19 L393.92 439.90 L395.46 439.62 L397.01 439.34 L398.57 439.07 L400.12 438.79 L401.69 438.52 L403.26 438.25 L404.83 437.98 L406.41 437.71 L407.99 437.45 L409.57 437.19 L411.17 436.93 L412.76 436.68 L414.36 436.43 L415.97 436.19 L417.58 435.95 L419.19 435.71 L420.81 435.48 L422.44 435.25 L424.06 435.03 L425.70 434.81 L427.33 434.60 L428.98 434.39 L430.62 434.19 L432.27 434.00 L433.93 433.81 L435.59 433.62 L437.26 433.44 L438.92 433.27 L440.60 433.11 L442.28 432.95 L443.96 432.80 L445.65 432.65 L447.34 432.51 L449.03 432.38 L450.73 432.25 L452.44 432.13 L454.15 432.02 L455.86 431.91 L457.57 431.81 L459.30 431.72 L461.02 431.64 L462.75 431.56 L464.48 431.49 L466.22 431.43 L467.96 431.38 L469.71 431.33 L471.46 431.29 L473.21 431.25 L474.97 431.23 L476.73 431.21 L478.50 431.20 L480.27 431.19 L482.04 431.20 L483.82 431.21 L485.60 431.22 L487.39 431.25 L489.17 431.28 L490.97 431.32 L492.76 431.37 L494.56 431.42 L496.37 431.48 L498.18 431.55 M263.27 404.01 L264.63 404.59 L265.99 405.18 L267.36 405.77 L268.72 406.36 L270.09 406.96 L271.46 407.57 L272.83 408.18 L274.20 408.80 L275.58 409.43 L276.95 410.05 L278.33 410.69 L279.71 411.33 L281.09 411.98 L282.47 412.63 L283.86 413.29 L285.25 413.95 L286.63 414.63 L288.02 415.30 L289.42 415.99 L290.81 416.68 L292.20 417.37 L293.60 418.08 L295.00 418.78 L296.40 419.50 L297.80 420.22 L299.20 420.95 L300.61 421.69 L302.01 422.43 L303.42 423.18 L304.83 423.93 L306.24 424.69 L307.65 425.46 L309.07 426.24 L310.48 427.02 L311.90 427.81 L313.32 428.61 L314.73 429.41 L316.15 430.22 L317.57 431.04 L319.00 431.86 L320.42 432.69 L321.85 433.53 L323.27 434.37 L324.70 435.22 L326.13 436.08 L327.55 436.94 L328.98 437.81 L330.42 438.69 L331.85 439.57 L333.28 440.46 L334.71 441.36 L336.15 442.26 L337.58 443.17 L339.02 444.09 L340.09 444.77 L340.44 444.74 L341.80 444.59 L343.17 444.44 L344.54 444.28 L345.92 444.12 L347.30 443.95 L348.68 443.77 L350.07 443.59 L351.45 443.40 L352.85 443.21 L354.24 443.01 L355.64 442.81 L357.04 442.60 L358.45 442.39 L359.86 442.17 L361.27 441.95 L362.69 441.72 L364.11 441.48 L365.53 441.25 L366.96 441.00 L368.39 440.76 L369.83 440.51 L371.26 440.25 L372.71 440.00 L374.16 439.73 L375.61 439.47 L377.06 439.20 L378.52 438.93 L379.99 438.66 L381.45 438.38 L382.92 438.10 L384.40 437.82 L385.88 437.54 L387.37 437.25 L388.86 436.97 L390.35 436.68 L391.85 436.39 L393.35 436.10 L394.85 435.81 L396.37 435.52 L397.88 435.22 L399.40 434.93 L400.93 434.64 L402.45 434.35 L403.99 434.06 L405.52 433.77 L407.07 433.48 L408.61 433.20 L410.17 432.91 L411.72 432.63 L413.28 432.34 L414.85 432.06 L416.42 431.79 L417.99 431.51 L419.57 431.24 L421.15 430.97 L422.74 430.70 L424.33 430.44 L425.93 430.18 L427.53 429.93 L429.14 429.67 L430.75 429.43 L432.36 429.18 L433.98 428.95 L435.61 428.71 L437.23 428.48 L438.87 428.26 L440.50 428.04 L442.15 427.83 L443.79 427.62 L445.44 427.42 L447.10 427.22 L448.76 427.03 L450.42 426.84 L452.09 426.66 L453.76 426.49 L455.44 426.32 L457.12 426.16 L458.80 426.01 L460.49 425.86 L462.19 425.72 L463.88 425.59 L465.59 425.46 L467.29 425.34 L469.00 425.23 L470.72 425.12 L472.43 425.02 L474.16 424.93 L475.88 424.85 L477.61 424.77 L479.35 424.70 L481.08 424.64 L482.83 424.58 L484.57 424.53 L486.32 424.49 L488.07 424.46 L489.83 424.43 L491.59 424.41 L493.36 424.40 L495.12 424.39 L496.90 424.39 L498.67 424.40 L500.45 424.42 L502.24 424.44 L504.02 424.47 L505.81 424.51 M272.58 396.83 L273.93 397.38 L275.28 397.94 L276.63 398.51 L277.98 399.08 L279.33 399.66 L280.69 400.24 L282.04 400.83 L283.40 401.42 L284.76 402.02 L286.12 402.63 L287.49 403.24 L288.85 403.85 L290.22 404.47 L291.59 405.10 L292.96 405.73 L294.33 406.37 L295.71 407.01 L297.08 407.66 L298.46 408.32 L299.84 408.98 L301.22 409.65 L302.60 410.32 L303.98 411.00 L305.37 411.69 L306.75 412.39 L308.14 413.09 L309.53 413.79 L310.92 414.50 L312.32 415.22 L313.71 415.95 L315.10 416.68 L316.50 417.42 L317.90 418.17 L319.30 418.92 L320.70 419.68 L322.10 420.45 L323.50 421.22 L324.91 422.00 L326.31 422.79 L327.72 423.58 L329.13 424.38 L330.54 425.19 L331.95 426.00 L333.36 426.82 L334.77 427.65 L336.19 428.48 L337.60 429.32 L339.02 430.17 L340.43 431.02 L341.85 431.88 L343.27 432.75 L344.69 433.62 L346.11 434.50 L347.53 435.39 L348.95 436.28 L350.37 437.18 L351.79 438.09 L352.85 438.76 L353.20 438.72 L354.57 438.57 L355.94 438.42 L357.31 438.25 L358.69 438.08 L360.07 437.91 L361.45 437.73 L362.84 437.54 L364.23 437.35 L365.62 437.15 L367.02 436.94 L368.42 436.73 L369.83 436.52 L371.23 436.30 L372.65 436.08 L374.06 435.85 L375.48 435.61 L376.90 435.37 L378.33 435.13 L379.76 434.88 L381.19 434.63 L382.63 434.37 L384.07 434.11 L385.52 433.85 L386.97 433.58 L388.42 433.31 L389.88 433.04 L391.34 432.76 L392.81 432.48 L394.28 432.20 L395.75 431.91 L397.23 431.63 L398.71 431.34 L400.20 431.05 L401.69 430.76 L403.19 430.46 L404.69 430.17 L406.19 429.87 L407.70 429.57 L409.21 429.28 L410.73 428.98 L412.25 428.68 L413.78 428.39 L415.31 428.09 L416.84 427.79 L418.38 427.50 L419.92 427.20 L421.47 426.91 L423.03 426.62 L424.58 426.33 L426.14 426.04 L427.71 425.75 L429.28 425.47 L430.86 425.19 L432.44 424.91 L434.02 424.64 L435.61 424.36 L437.20 424.09 L438.80 423.83 L440.40 423.57 L442.01 423.31 L443.62 423.06 L445.23 422.81 L446.85 422.56 L448.47 422.32 L450.10 422.09 L451.73 421.86 L453.37 421.63 L455.01 421.41 L456.66 421.20 L458.31 420.99 L459.96 420.78 L461.62 420.59 L463.28 420.39 L464.95 420.21 L466.62 420.03 L468.29 419.85 L469.97 419.69 L471.65 419.53 L473.34 419.37 L475.03 419.23 L476.73 419.08 L478.43 418.95 L480.13 418.82 L481.84 418.70 L483.55 418.59 L485.26 418.48 L486.98 418.38 L488.70 418.29 L490.43 418.21 L492.16 418.13 L493.89 418.06 L495.63 417.99 L497.37 417.94 L499.12 417.89 L500.86 417.85 L502.62 417.81 L504.37 417.78 L506.13 417.76 L507.89 417.75 L509.66 417.74 L511.43 417.74 L513.20 417.75 M281.68 389.85 L283.02 390.38 L284.35 390.92 L285.69 391.46 L287.03 392.01 L288.37 392.57 L289.71 393.13 L291.05 393.69 L292.40 394.26 L293.74 394.83 L295.09 395.41 L296.44 396.00 L297.79 396.59 L299.15 397.18 L300.50 397.78 L301.86 398.39 L303.22 399.00 L304.58 399.62 L305.94 400.24 L307.30 400.87 L308.67 401.51 L310.03 402.15 L311.40 402.80 L312.77 403.45 L314.14 404.11 L315.51 404.78 L316.89 405.45 L318.26 406.13 L319.64 406.81 L321.02 407.50 L322.40 408.20 L323.78 408.90 L325.16 409.61 L326.54 410.33 L327.93 411.06 L329.31 411.79 L330.70 412.52 L332.09 413.27 L333.48 414.02 L334.87 414.77 L336.26 415.54 L337.65 416.31 L339.05 417.08 L340.44 417.87 L341.84 418.66 L343.24 419.46 L344.63 420.26 L346.03 421.07 L347.43 421.89 L348.83 422.71 L350.24 423.54 L351.64 424.38 L353.04 425.22 L354.45 426.07 L355.85 426.93 L357.26 427.79 L358.67 428.66 L360.07 429.54 L361.48 430.42 L362.89 431.31 L364.30 432.21 L365.35 432.88 L365.70 432.84 L367.07 432.68 L368.44 432.52 L369.82 432.35 L371.19 432.17 L372.58 431.99 L373.96 431.81 L375.35 431.61 L376.74 431.41 L378.14 431.21 L379.54 431.00 L380.94 430.79 L382.34 430.57 L383.75 430.34 L385.17 430.11 L386.58 429.88 L388.00 429.64 L389.43 429.39 L390.86 429.14 L392.29 428.89 L393.72 428.63 L395.16 428.37 L396.61 428.10 L398.06 427.83 L399.51 427.56 L400.96 427.29 L402.42 427.01 L403.89 426.72 L405.35 426.44 L406.83 426.15 L408.30 425.86 L409.78 425.57 L411.27 425.27 L412.76 424.98 L414.25 424.68 L415.75 424.38 L417.25 424.08 L418.75 423.78 L420.26 423.48 L421.78 423.18 L423.30 422.87 L424.82 422.57 L426.35 422.27 L427.88 421.96 L429.41 421.66 L430.95 421.36 L432.50 421.06 L434.05 420.76 L435.60 420.47 L437.16 420.17 L438.72 419.88 L440.29 419.58 L441.86 419.29 L443.44 419.01 L445.02 418.72 L446.60 418.44 L448.19 418.16 L449.78 417.89 L451.38 417.62 L452.98 417.35 L454.59 417.09 L456.20 416.83 L457.81 416.57 L459.43 416.32 L461.05 416.08 L462.68 415.83 L464.31 415.60 L465.95 415.37 L467.59 415.14 L469.23 414.92 L470.88 414.70 L472.53 414.49 L474.19 414.29 L475.85 414.09 L477.51 413.90 L479.18 413.71 L480.85 413.53 L482.53 413.36 L484.21 413.19 L485.89 413.03 L487.58 412.88 L489.27 412.73 L490.97 412.59 L492.67 412.46 L494.37 412.33 L496.08 412.21 L497.79 412.09 L499.51 411.99 L501.22 411.89 L502.95 411.80 L504.67 411.71 L506.40 411.63 L508.13 411.56 L509.87 411.50 L511.61 411.44 L513.35 411.39 L515.10 411.35 L516.85 411.31 L518.61 411.28 L520.36 411.26 M290.58 383.06 L291.90 383.57 L293.22 384.09 L294.55 384.62 L295.87 385.14 L297.20 385.67 L298.53 386.21 L299.86 386.75 L301.19 387.30 L302.53 387.85 L303.86 388.41 L305.20 388.97 L306.54 389.53 L307.88 390.10 L309.22 390.68 L310.56 391.26 L311.91 391.85 L313.25 392.44 L314.60 393.04 L315.95 393.64 L317.30 394.25 L318.66 394.87 L320.01 395.49 L321.36 396.12 L322.72 396.75 L324.08 397.39 L325.44 398.03 L326.80 398.69 L328.16 399.34 L329.53 400.01 L330.89 400.68 L332.26 401.35 L333.63 402.03 L335.00 402.72 L336.37 403.42 L337.74 404.12 L339.11 404.83 L340.49 405.54 L341.86 406.26 L343.24 406.99 L344.62 407.73 L345.99 408.47 L347.37 409.21 L348.75 409.97 L350.14 410.73 L351.52 411.50 L352.90 412.27 L354.29 413.05 L355.67 413.84 L357.06 414.64 L358.45 415.44 L359.84 416.25 L361.23 417.06 L362.62 417.88 L364.01 418.71 L365.40 419.54 L366.79 420.38 L368.18 421.23 L369.58 422.09 L370.97 422.95 L372.37 423.81 L373.76 424.69 L375.16 425.56 L376.55 426.45 L377.59 427.11 L377.94 427.07 L379.31 426.91 L380.68 426.74 L382.06 426.57 L383.44 426.39 L384.82 426.20 L386.21 426.01 L387.60 425.81 L388.99 425.60 L390.39 425.40 L391.79 425.18 L393.19 424.96 L394.60 424.74 L396.01 424.50 L397.43 424.27 L398.84 424.03 L400.27 423.78 L401.69 423.53 L403.12 423.28 L404.56 423.02 L405.99 422.76 L407.43 422.49 L408.88 422.22 L410.33 421.95 L411.78 421.67 L413.24 421.39 L414.70 421.10 L416.16 420.81 L417.63 420.52 L419.11 420.23 L420.59 419.94 L422.07 419.64 L423.55 419.34 L425.04 419.04 L426.54 418.74 L428.04 418.43 L429.54 418.13 L431.04 417.82 L432.56 417.51 L434.07 417.20 L435.59 416.90 L437.12 416.59 L438.64 416.28 L440.18 415.97 L441.71 415.67 L443.25 415.36 L444.80 415.05 L446.35 414.75 L447.90 414.45 L449.46 414.15 L451.03 413.85 L452.59 413.55 L454.16 413.26 L455.74 412.96 L457.32 412.67 L458.90 412.39 L460.49 412.10 L462.08 411.82 L463.68 411.55 L465.28 411.27 L466.89 411.00 L468.50 410.74 L470.11 410.48 L471.73 410.22 L473.35 409.97 L474.98 409.72 L476.61 409.48 L478.24 409.24 L479.88 409.01 L481.52 408.78 L483.17 408.56 L484.82 408.35 L486.47 408.14 L488.13 407.93 L489.79 407.73 L491.46 407.54 L493.13 407.36 L494.80 407.18 L496.48 407.00 L498.16 406.84 L499.85 406.67 L501.54 406.52 L503.23 406.37 L504.92 406.23 L506.62 406.10 L508.33 405.97 L510.03 405.85 L511.74 405.74 L513.46 405.63 L515.18 405.53 L516.90 405.44 L518.62 405.36 L520.35 405.28 L522.08 405.21 L523.82 405.14 L525.55 405.09 L527.30 405.04 M299.28 376.46 L300.59 376.96 L301.90 377.46 L303.21 377.96 L304.53 378.46 L305.84 378.97 L307.16 379.49 L308.47 380.01 L309.79 380.53 L311.12 381.06 L312.44 381.60 L313.76 382.13 L315.09 382.68 L316.42 383.23 L317.75 383.78 L319.08 384.34 L320.41 384.90 L321.74 385.47 L323.08 386.04 L324.41 386.62 L325.75 387.21 L327.09 387.80 L328.43 388.39 L329.77 389.00 L331.12 389.60 L332.46 390.22 L333.81 390.83 L335.16 391.46 L336.51 392.09 L337.86 392.73 L339.21 393.37 L340.56 394.02 L341.92 394.67 L343.27 395.33 L344.63 396.00 L345.99 396.67 L347.34 397.36 L348.71 398.04 L350.07 398.73 L351.43 399.43 L352.79 400.14 L354.16 400.85 L355.52 401.57 L356.89 402.30 L358.26 403.03 L359.63 403.77 L361.00 404.51 L362.37 405.27 L363.74 406.02 L365.11 406.79 L366.49 407.56 L367.86 408.34 L369.24 409.13 L370.61 409.92 L371.99 410.72 L373.37 411.52 L374.74 412.33 L376.12 413.15 L377.50 413.98 L378.88 414.81 L380.26 415.65 L381.64 416.49 L383.03 417.34 L384.41 418.20 L385.79 419.06 L387.17 419.93 L388.56 420.81 L389.59 421.46 L389.94 421.42 L391.31 421.25 L392.68 421.08 L394.06 420.90 L395.44 420.72 L396.82 420.52 L398.21 420.33 L399.60 420.12 L400.99 419.91 L402.39 419.70 L403.79 419.48 L405.20 419.25 L406.61 419.02 L408.02 418.79 L409.43 418.55 L410.85 418.30 L412.28 418.05 L413.70 417.80 L415.13 417.54 L416.57 417.28 L418.01 417.01 L419.45 416.74 L420.90 416.46 L422.35 416.18 L423.80 415.90 L425.26 415.61 L426.72 415.32 L428.19 415.03 L429.66 414.73 L431.13 414.44 L432.61 414.14 L434.09 413.83 L435.58 413.53 L437.07 413.22 L438.57 412.92 L440.06 412.61 L441.57 412.30 L443.08 411.98 L444.59 411.67 L446.10 411.36 L447.62 411.05 L449.15 410.73 L450.68 410.42 L452.21 410.11 L453.75 409.80 L455.29 409.49 L456.84 409.18 L458.39 408.87 L459.94 408.56 L461.50 408.25 L463.06 407.95 L464.63 407.65 L466.20 407.35 L467.78 407.05 L469.36 406.75 L470.94 406.46 L472.53 406.17 L474.12 405.89 L475.72 405.61 L477.32 405.33 L478.92 405.05 L480.53 404.78 L482.14 404.52 L483.76 404.26 L485.38 404.00 L487.00 403.75 L488.63 403.50 L490.26 403.25 L491.90 403.02 L493.54 402.78 L495.18 402.56 L496.83 402.34 L498.48 402.12 L500.14 401.91 L501.80 401.71 L503.46 401.51 L505.13 401.32 L506.80 401.13 L508.47 400.95 L510.15 400.78 L511.83 400.61 L513.52 400.45 L515.21 400.30 L516.90 400.15 L518.60 400.01 L520.30 399.88 L522.00 399.75 L523.70 399.63 L525.41 399.52 L527.13 399.41 L528.84 399.31 L530.56 399.22 L532.29 399.14 L534.01 399.06 M307.79 370.05 L309.09 370.52 L310.39 371.00 L311.69 371.48 L312.99 371.97 L314.29 372.46 L315.59 372.95 L316.90 373.45 L318.21 373.96 L319.52 374.46 L320.83 374.98 L322.14 375.49 L323.45 376.01 L324.77 376.54 L326.09 377.07 L327.40 377.61 L328.72 378.15 L330.04 378.69 L331.37 379.24 L332.69 379.80 L334.02 380.36 L335.34 380.93 L336.67 381.50 L338.00 382.08 L339.33 382.66 L340.66 383.25 L342.00 383.84 L343.33 384.44 L344.67 385.04 L346.01 385.66 L347.34 386.27 L348.68 386.89 L350.03 387.52 L351.37 388.16 L352.71 388.80 L354.06 389.45 L355.40 390.10 L356.75 390.76 L358.10 391.42 L359.45 392.09 L360.80 392.77 L362.15 393.46 L363.50 394.15 L364.86 394.85 L366.21 395.55 L367.57 396.26 L368.92 396.98 L370.28 397.70 L371.64 398.43 L373.00 399.17 L374.36 399.91 L375.72 400.66 L377.08 401.42 L378.44 402.18 L379.80 402.95 L381.17 403.73 L382.53 404.51 L383.90 405.30 L385.26 406.10 L386.63 406.90 L388.00 407.71 L389.36 408.52 L390.73 409.35 L392.10 410.18 L393.47 411.01 L394.84 411.85 L396.21 412.70 L397.58 413.55 L398.95 414.41 L400.32 415.28 L401.34 415.93 L401.69 415.89 L403.06 415.71 L404.44 415.53 L405.81 415.35 L407.20 415.16 L408.58 414.96 L409.97 414.76 L411.36 414.55 L412.75 414.34 L414.15 414.12 L415.55 413.89 L416.96 413.66 L418.37 413.43 L419.78 413.19 L421.20 412.94 L422.62 412.69 L424.04 412.44 L425.47 412.18 L426.90 411.92 L428.33 411.65 L429.77 411.37 L431.22 411.10 L432.66 410.82 L434.12 410.53 L435.57 410.25 L437.03 409.96 L438.49 409.66 L439.96 409.36 L441.43 409.06 L442.91 408.76 L444.38 408.46 L445.87 408.15 L447.36 407.84 L448.85 407.53 L450.34 407.22 L451.84 406.90 L453.35 406.59 L454.85 406.27 L456.37 405.96 L457.88 405.64 L459.40 405.32 L460.93 405.00 L462.46 404.69 L463.99 404.37 L465.53 404.05 L467.07 403.74 L468.62 403.42 L470.17 403.11 L471.72 402.80 L473.28 402.49 L474.84 402.18 L476.41 401.87 L477.98 401.56 L479.55 401.26 L481.13 400.96 L482.71 400.67 L484.30 400.37 L485.89 400.08 L487.49 399.80 L489.09 399.51 L490.69 399.23 L492.30 398.96 L493.91 398.69 L495.52 398.42 L497.14 398.16 L498.76 397.90 L500.39 397.65 L502.02 397.40 L503.66 397.16 L505.29 396.92 L506.94 396.69 L508.58 396.46 L510.23 396.24 L511.88 396.02 L513.54 395.81 L515.20 395.61 L516.86 395.41 L518.53 395.22 L520.20 395.03 L521.88 394.86 L523.55 394.68 L525.24 394.52 L526.92 394.36 L528.61 394.21 L530.30 394.06 L531.99 393.92 L533.69 393.79 L535.39 393.66 L537.10 393.54 L538.81 393.43 L540.52 393.33 M316.11 363.81 L317.40 364.26 L318.69 364.72 L319.97 365.18 L321.26 365.65 L322.56 366.12 L323.85 366.60 L325.14 367.08 L326.44 367.56 L327.74 368.05 L329.04 368.54 L330.34 369.04 L331.64 369.54 L332.94 370.04 L334.25 370.55 L335.55 371.07 L336.86 371.58 L338.17 372.11 L339.48 372.64 L340.79 373.17 L342.10 373.71 L343.42 374.25 L344.73 374.80 L346.05 375.35 L347.37 375.91 L348.69 376.48 L350.01 377.05 L351.33 377.62 L352.66 378.20 L353.98 378.79 L355.31 379.38 L356.63 379.98 L357.96 380.58 L359.29 381.19 L360.62 381.80 L361.96 382.42 L363.29 383.05 L364.62 383.68 L365.96 384.32 L367.30 384.97 L368.63 385.62 L369.97 386.27 L371.31 386.94 L372.65 387.61 L373.99 388.28 L375.34 388.97 L376.68 389.66 L378.02 390.35 L379.37 391.05 L380.71 391.76 L382.06 392.48 L383.41 393.20 L384.76 393.93 L386.11 394.66 L387.46 395.40 L388.81 396.15 L390.16 396.91 L391.51 397.67 L392.86 398.43 L394.22 399.21 L395.57 399.99 L396.92 400.78 L398.28 401.57 L399.64 402.37 L400.99 403.18 L402.35 403.99 L403.70 404.81 L405.06 405.64 L406.42 406.47 L407.78 407.31 L409.13 408.15 L410.49 409.01 L411.85 409.86 L412.86 410.50 L413.21 410.46 L414.58 410.28 L415.96 410.10 L417.34 409.91 L418.72 409.71 L420.10 409.51 L421.49 409.31 L422.88 409.09 L424.28 408.87 L425.67 408.65 L427.08 408.42 L428.48 408.19 L429.89 407.95 L431.30 407.70 L432.72 407.45 L434.14 407.20 L435.57 406.94 L436.99 406.67 L438.43 406.41 L439.86 406.13 L441.30 405.86 L442.75 405.58 L444.19 405.29 L445.64 405.00 L447.10 404.71 L448.56 404.42 L450.02 404.12 L451.49 403.82 L452.96 403.51 L454.44 403.20 L455.92 402.90 L457.40 402.58 L458.89 402.27 L460.38 401.96 L461.87 401.64 L463.37 401.32 L464.88 401.00 L466.39 400.68 L467.90 400.36 L469.42 400.04 L470.94 399.72 L472.46 399.39 L473.99 399.07 L475.52 398.75 L477.06 398.43 L478.60 398.11 L480.15 397.79 L481.70 397.47 L483.25 397.15 L484.81 396.84 L486.37 396.53 L487.94 396.22 L489.51 395.91 L491.08 395.60 L492.66 395.30 L494.24 394.99 L495.83 394.70 L497.41 394.40 L499.01 394.11 L500.61 393.82 L502.21 393.54 L503.81 393.26 L505.42 392.98 L507.04 392.71 L508.65 392.44 L510.27 392.18 L511.90 391.92 L513.53 391.67 L515.16 391.42 L516.79 391.18 L518.43 390.94 L520.07 390.71 L521.72 390.48 L523.37 390.26 L525.02 390.05 L526.68 389.84 L528.34 389.64 L530.00 389.44 L531.67 389.25 L533.34 389.06 L535.02 388.89 L536.69 388.71 L538.37 388.55 L540.06 388.39 L541.74 388.24 L543.43 388.09 L545.13 387.96 L546.82 387.83 M324.26 357.73 L325.53 358.17 L326.81 358.61 L328.08 359.06 L329.36 359.50 L330.64 359.96 L331.92 360.41 L333.21 360.87 L334.49 361.34 L335.78 361.81 L337.07 362.28 L338.35 362.76 L339.64 363.24 L340.94 363.72 L342.23 364.21 L343.52 364.70 L344.82 365.20 L346.12 365.70 L347.42 366.21 L348.72 366.72 L350.02 367.24 L351.32 367.76 L352.62 368.29 L353.93 368.82 L355.24 369.35 L356.54 369.90 L357.85 370.44 L359.16 370.99 L360.47 371.55 L361.79 372.11 L363.10 372.68 L364.42 373.25 L365.73 373.83 L367.05 374.42 L368.37 375.01 L369.69 375.60 L371.01 376.20 L372.33 376.81 L373.65 377.42 L374.98 378.04 L376.30 378.67 L377.63 379.30 L378.96 379.93 L380.28 380.58 L381.61 381.23 L382.94 381.88 L384.27 382.54 L385.61 383.21 L386.94 383.89 L388.27 384.57 L389.61 385.25 L390.94 385.95 L392.28 386.65 L393.61 387.36 L394.95 388.07 L396.29 388.79 L397.63 389.51 L398.97 390.25 L400.31 390.99 L401.65 391.73 L402.99 392.49 L404.33 393.25 L405.67 394.01 L407.01 394.78 L408.36 395.56 L409.70 396.35 L411.05 397.14 L412.39 397.94 L413.73 398.74 L415.08 399.55 L416.43 400.37 L417.77 401.19 L419.12 402.02 L420.46 402.86 L421.81 403.70 L423.16 404.55 L424.16 405.18 L424.51 405.14 L425.88 404.96 L427.25 404.77 L428.63 404.58 L430.01 404.38 L431.40 404.17 L432.78 403.96 L434.18 403.74 L435.57 403.52 L436.97 403.29 L438.37 403.06 L439.78 402.82 L441.19 402.57 L442.60 402.33 L444.02 402.07 L445.44 401.81 L446.86 401.55 L448.29 401.28 L449.72 401.01 L451.16 400.73 L452.60 400.45 L454.04 400.16 L455.49 399.88 L456.94 399.58 L458.40 399.29 L459.85 398.99 L461.32 398.69 L462.79 398.38 L464.26 398.07 L465.73 397.76 L467.21 397.45 L468.70 397.13 L470.18 396.81 L471.68 396.50 L473.17 396.17 L474.67 395.85 L476.17 395.53 L477.68 395.20 L479.19 394.88 L480.71 394.55 L482.23 394.23 L483.76 393.90 L485.28 393.57 L486.82 393.25 L488.35 392.92 L489.89 392.60 L491.44 392.28 L492.99 391.95 L494.54 391.63 L496.10 391.31 L497.66 390.99 L499.22 390.68 L500.79 390.37 L502.36 390.06 L503.94 389.75 L505.52 389.44 L507.10 389.14 L508.69 388.84 L510.28 388.54 L511.88 388.25 L513.48 387.96 L515.08 387.68 L516.69 387.40 L518.30 387.12 L519.92 386.85 L521.53 386.58 L523.16 386.32 L524.78 386.06 L526.41 385.81 L528.04 385.56 L529.68 385.32 L531.32 385.08 L532.96 384.85 L534.61 384.63 L536.26 384.41 L537.91 384.19 L539.57 383.98 L541.23 383.78 L542.89 383.59 L544.56 383.40 L546.23 383.21 L547.90 383.04 L549.58 382.87 L551.26 382.70 L552.94 382.55 M332.22 351.81 L333.49 352.24 L334.75 352.66 L336.02 353.09 L337.29 353.52 L338.55 353.96 L339.83 354.39 L341.10 354.84 L342.37 355.28 L343.65 355.73 L344.92 356.19 L346.20 356.65 L347.48 357.11 L348.76 357.57 L350.04 358.04 L351.33 358.52 L352.61 359.00 L353.90 359.48 L355.18 359.96 L356.47 360.46 L357.76 360.95 L359.05 361.45 L360.34 361.96 L361.64 362.47 L362.93 362.98 L364.23 363.50 L365.53 364.02 L366.83 364.55 L368.13 365.09 L369.43 365.63 L370.73 366.17 L372.03 366.72 L373.34 367.27 L374.64 367.83 L375.95 368.40 L377.26 368.97 L378.57 369.55 L379.88 370.13 L381.19 370.72 L382.50 371.31 L383.81 371.91 L385.13 372.52 L386.44 373.13 L387.76 373.75 L389.07 374.37 L390.39 375.00 L391.71 375.63 L393.03 376.27 L394.35 376.92 L395.67 377.58 L396.99 378.24 L398.32 378.90 L399.64 379.58 L400.96 380.26 L402.29 380.94 L403.62 381.63 L404.94 382.33 L406.27 383.04 L407.60 383.75 L408.92 384.47 L410.25 385.19 L411.58 385.92 L412.91 386.66 L414.24 387.41 L415.57 388.16 L416.91 388.92 L418.24 389.68 L419.57 390.45 L420.90 391.23 L422.23 392.01 L423.57 392.80 L424.90 393.60 L426.23 394.40 L427.57 395.21 L428.90 396.02 L430.24 396.84 L431.57 397.67 L432.91 398.50 L434.24 399.34 L435.23 399.97 L435.58 399.92 L436.95 399.74 L438.33 399.54 L439.71 399.35 L441.09 399.14 L442.47 398.93 L443.86 398.72 L445.25 398.50 L446.64 398.27 L448.04 398.04 L449.44 397.80 L450.85 397.56 L452.26 397.31 L453.67 397.05 L455.09 396.80 L456.51 396.53 L457.93 396.27 L459.36 395.99 L460.79 395.72 L462.23 395.44 L463.67 395.15 L465.11 394.86 L466.56 394.57 L468.01 394.27 L469.46 393.97 L470.92 393.67 L472.39 393.36 L473.85 393.05 L475.33 392.74 L476.80 392.43 L478.28 392.11 L479.76 391.79 L481.25 391.47 L482.74 391.15 L484.24 390.82 L485.74 390.49 L487.24 390.17 L488.75 389.84 L490.26 389.51 L491.78 389.18 L493.29 388.85 L494.82 388.52 L496.35 388.19 L497.88 387.86 L499.41 387.53 L500.95 387.20 L502.50 386.87 L504.04 386.55 L505.60 386.22 L507.15 385.90 L508.71 385.58 L510.27 385.26 L511.84 384.94 L513.41 384.63 L514.99 384.31 L516.57 384.00 L518.15 383.70 L519.73 383.39 L521.32 383.09 L522.92 382.80 L524.52 382.50 L526.12 382.22 L527.72 381.93 L529.33 381.65 L530.94 381.37 L532.56 381.10 L534.18 380.84 L535.80 380.57 L537.43 380.32 L539.05 380.06 L540.69 379.82 L542.32 379.58 L543.96 379.34 L545.61 379.11 L547.25 378.89 L548.90 378.67 L550.55 378.46 L552.21 378.25 L553.87 378.05 L555.53 377.85 L557.20 377.67 L558.87 377.48 M340.02 346.05 L341.27 346.46 L342.53 346.87 L343.78 347.28 L345.04 347.69 L346.30 348.11 L347.56 348.53 L348.82 348.96 L350.08 349.39 L351.35 349.82 L352.61 350.26 L353.88 350.70 L355.15 351.14 L356.42 351.59 L357.69 352.04 L358.96 352.50 L360.23 352.96 L361.51 353.42 L362.78 353.89 L364.06 354.36 L365.34 354.83 L366.62 355.31 L367.90 355.80 L369.18 356.29 L370.47 356.78 L371.75 357.28 L373.04 357.78 L374.33 358.29 L375.61 358.80 L376.90 359.32 L378.20 359.84 L379.49 360.37 L380.78 360.90 L382.07 361.44 L383.37 361.98 L384.67 362.53 L385.96 363.08 L387.26 363.64 L388.56 364.20 L389.86 364.77 L391.16 365.35 L392.47 365.93 L393.77 366.52 L395.07 367.11 L396.38 367.71 L397.68 368.31 L398.99 368.92 L400.30 369.54 L401.61 370.16 L402.92 370.78 L404.23 371.42 L405.54 372.06 L406.85 372.71 L408.16 373.36 L409.48 374.02 L410.79 374.68 L412.11 375.35 L413.42 376.03 L414.74 376.72 L416.05 377.41 L417.37 378.10 L418.69 378.81 L420.00 379.52 L421.32 380.24 L422.64 380.96 L423.96 381.69 L425.28 382.42 L426.60 383.17 L427.92 383.92 L429.24 384.67 L430.56 385.43 L431.89 386.20 L433.21 386.98 L434.53 387.76 L435.85 388.55 L437.17 389.34 L438.50 390.14 L439.82 390.95 L441.14 391.76 L442.47 392.58 L443.79 393.40 L445.11 394.23 L446.10 394.85 L446.45 394.81 L447.82 394.62 L449.19 394.42 L450.57 394.22 L451.95 394.01 L453.33 393.80 L454.72 393.58 L456.11 393.35 L457.50 393.12 L458.90 392.88 L460.30 392.64 L461.70 392.40 L463.11 392.14 L464.53 391.89 L465.94 391.63 L467.36 391.36 L468.79 391.09 L470.21 390.81 L471.64 390.53 L473.08 390.25 L474.52 389.96 L475.96 389.66 L477.41 389.37 L478.86 389.07 L480.31 388.76 L481.77 388.46 L483.24 388.15 L484.70 387.83 L486.17 387.52 L487.65 387.20 L489.13 386.88 L490.61 386.55 L492.10 386.23 L493.59 385.90 L495.08 385.57 L496.58 385.24 L498.08 384.91 L499.59 384.58 L501.10 384.25 L502.62 383.92 L504.13 383.58 L505.66 383.25 L507.18 382.91 L508.71 382.58 L510.25 382.25 L511.79 381.92 L513.33 381.58 L514.88 381.25 L516.43 380.93 L517.98 380.60 L519.54 380.27 L521.10 379.95 L522.66 379.63 L524.23 379.31 L525.81 378.99 L527.38 378.68 L528.96 378.37 L530.55 378.06 L532.14 377.76 L533.73 377.46 L535.32 377.16 L536.92 376.87 L538.52 376.58 L540.13 376.29 L541.74 376.01 L543.35 375.74 L544.97 375.47 L546.59 375.20 L548.21 374.94 L549.83 374.68 L551.46 374.43 L553.10 374.19 L554.73 373.95 L556.37 373.71 L558.01 373.48 L559.66 373.26 L561.31 373.04 L562.96 372.83 L564.61 372.63 M347.65 340.44 L348.89 340.83 L350.13 341.22 L351.38 341.62 L352.63 342.02 L353.88 342.42 L355.13 342.83 L356.38 343.24 L357.63 343.65 L358.88 344.07 L360.14 344.49 L361.39 344.91 L362.65 345.34 L363.91 345.77 L365.17 346.20 L366.43 346.64 L367.70 347.08 L368.96 347.52 L370.23 347.97 L371.49 348.42 L372.76 348.88 L374.03 349.34 L375.30 349.81 L376.57 350.28 L377.84 350.75 L379.12 351.23 L380.39 351.71 L381.67 352.20 L382.95 352.69 L384.23 353.19 L385.51 353.69 L386.79 354.19 L388.07 354.70 L389.35 355.22 L390.64 355.74 L391.92 356.26 L393.21 356.80 L394.49 357.33 L395.78 357.87 L397.07 358.42 L398.36 358.97 L399.65 359.53 L400.94 360.09 L402.24 360.66 L403.53 361.23 L404.83 361.81 L406.12 362.39 L407.42 362.99 L408.72 363.58 L410.01 364.18 L411.31 364.79 L412.61 365.41 L413.91 366.03 L415.21 366.65 L416.52 367.29 L417.82 367.93 L419.12 368.57 L420.42 369.22 L421.73 369.88 L423.03 370.54 L424.34 371.22 L425.65 371.89 L426.95 372.57 L428.26 373.26 L429.57 373.96 L430.87 374.66 L432.18 375.37 L433.49 376.09 L434.80 376.81 L436.11 377.54 L437.42 378.27 L438.73 379.01 L440.04 379.76 L441.35 380.51 L442.66 381.28 L443.97 382.04 L445.28 382.82 L446.59 383.59 L447.91 384.38 L449.22 385.17 L450.53 385.97 L451.84 386.77 L453.15 387.58 L454.46 388.40 L455.78 389.22 L456.75 389.84 L457.10 389.79 L458.47 389.59 L459.84 389.39 L461.22 389.19 L462.60 388.98 L463.98 388.76 L465.37 388.54 L466.75 388.31 L468.15 388.07 L469.54 387.83 L470.95 387.59 L472.35 387.34 L473.76 387.08 L475.17 386.82 L476.59 386.55 L478.00 386.28 L479.43 386.01 L480.85 385.73 L482.29 385.44 L483.72 385.16 L485.16 384.86 L486.60 384.57 L488.05 384.27 L489.50 383.96 L490.95 383.66 L492.41 383.35 L493.87 383.03 L495.34 382.72 L496.81 382.40 L498.28 382.07 L499.76 381.75 L501.24 381.42 L502.73 381.09 L504.22 380.76 L505.71 380.43 L507.21 380.10 L508.71 379.76 L510.21 379.43 L511.72 379.09 L513.24 378.76 L514.76 378.42 L516.28 378.08 L517.80 377.74 L519.33 377.41 L520.86 377.07 L522.40 376.74 L523.94 376.40 L525.49 376.07 L527.03 375.74 L528.59 375.40 L530.14 375.08 L531.70 374.75 L533.27 374.42 L534.83 374.10 L536.40 373.78 L537.98 373.46 L539.56 373.15 L541.14 372.84 L542.72 372.53 L544.31 372.23 L545.90 371.93 L547.50 371.63 L549.10 371.34 L550.70 371.05 L552.31 370.77 L553.92 370.49 L555.53 370.21 L557.15 369.94 L558.77 369.68 L560.39 369.41 L562.01 369.16 L563.64 368.91 L565.28 368.67 L566.91 368.43 L568.55 368.19 L570.19 367.97 M355.12 334.96 L356.35 335.34 L357.58 335.72 L358.82 336.10 L360.06 336.49 L361.29 336.88 L362.53 337.27 L363.77 337.66 L365.02 338.06 L366.26 338.46 L367.51 338.86 L368.75 339.27 L370.00 339.68 L371.25 340.09 L372.50 340.51 L373.75 340.93 L375.00 341.36 L376.26 341.78 L377.51 342.21 L378.77 342.65 L380.02 343.09 L381.28 343.53 L382.54 343.98 L383.80 344.43 L385.07 344.88 L386.33 345.34 L387.59 345.81 L388.86 346.27 L390.13 346.75 L391.39 347.22 L392.66 347.70 L393.93 348.19 L395.20 348.68 L396.48 349.17 L397.75 349.67 L399.02 350.17 L400.30 350.68 L401.58 351.20 L402.85 351.72 L404.13 352.24 L405.41 352.77 L406.69 353.30 L407.97 353.84 L409.25 354.39 L410.54 354.94 L411.82 355.49 L413.10 356.05 L414.39 356.62 L415.68 357.19 L416.96 357.77 L418.25 358.35 L419.54 358.94 L420.83 359.54 L422.12 360.14 L423.41 360.75 L424.70 361.36 L425.99 361.98 L427.29 362.61 L428.58 363.24 L429.87 363.88 L431.17 364.52 L432.46 365.17 L433.76 365.83 L435.05 366.49 L436.35 367.16 L437.65 367.83 L438.94 368.52 L440.24 369.20 L441.54 369.90 L442.84 370.60 L444.14 371.31 L445.44 372.02 L446.73 372.74 L448.03 373.47 L449.33 374.20 L450.63 374.94 L451.93 375.69 L453.23 376.44 L454.53 377.20 L455.83 377.96 L457.13 378.74 L458.43 379.51 L459.74 380.30 L461.04 381.09 L462.34 381.88 L463.64 382.68 L464.94 383.49 L466.24 384.31 L467.21 384.92 L467.55 384.87 L468.92 384.67 L470.29 384.46 L471.67 384.25 L473.05 384.04 L474.43 383.82 L475.81 383.59 L477.20 383.36 L478.59 383.12 L479.99 382.88 L481.39 382.63 L482.79 382.37 L484.20 382.11 L485.61 381.85 L487.02 381.58 L488.44 381.31 L489.86 381.03 L491.29 380.74 L492.72 380.46 L494.15 380.17 L495.59 379.87 L497.03 379.57 L498.48 379.27 L499.93 378.96 L501.38 378.65 L502.84 378.33 L504.30 378.02 L505.76 377.70 L507.23 377.37 L508.71 377.05 L510.18 376.72 L511.66 376.39 L513.15 376.06 L514.64 375.73 L516.13 375.39 L517.62 375.06 L519.13 374.72 L520.63 374.38 L522.14 374.04 L523.65 373.70 L525.17 373.36 L526.69 373.02 L528.21 372.68 L529.74 372.34 L531.27 372.00 L532.80 371.66 L534.34 371.32 L535.89 370.98 L537.43 370.65 L538.98 370.31 L540.54 369.98 L542.09 369.65 L543.65 369.32 L545.22 369.00 L546.79 368.68 L548.36 368.35 L549.94 368.04 L551.51 367.72 L553.10 367.41 L554.68 367.10 L556.27 366.80 L557.87 366.50 L559.46 366.20 L561.06 365.91 L562.66 365.62 L564.27 365.34 L565.88 365.06 L567.49 364.79 L569.11 364.52 L570.73 364.25 L572.35 364.00 L573.97 363.74 L575.60 363.49" fill="none" stroke="#3a3a3c" stroke-width="0.95" stroke-opacity="0.88" stroke-linejoin="round"/>
<path d="M223.82 434.95 L225.24 435.64 L226.66 436.33 L228.09 437.02 L229.51 437.73 L230.94 438.44 L232.37 439.15 L233.80 439.87 L235.24 440.60 L236.68 441.34 L238.11 442.08 L239.55 442.83 L241.00 443.58 L242.44 444.34 L243.89 445.11 L245.34 445.89 L246.79 446.67 L248.24 447.46 L249.70 448.25 L251.15 449.06 L252.61 449.87 L254.07 450.68 L255.53 451.51 L257.00 452.34 L258.46 453.17 L259.93 454.02 L261.40 454.87 L262.87 455.73 L264.34 456.59 L265.82 457.46 L267.29 458.34 L268.77 459.23 L270.25 460.12 L271.73 461.02 L273.21 461.93 L274.70 462.84 L276.18 463.76 L277.67 464.69 L279.16 465.62 L280.64 466.56 L282.13 467.50 L283.63 468.46 L285.12 469.42 L286.23 470.13 L286.58 470.10 L287.93 469.99 L289.29 469.86 L290.65 469.73 L292.01 469.59 L293.38 469.45 L294.75 469.30 L296.12 469.15 L297.50 468.99 L298.88 468.82 L300.26 468.65 L301.65 468.47 L303.04 468.29 L304.43 468.10 L305.83 467.91 L307.23 467.72 L308.63 467.51 L310.03 467.31 L311.45 467.10 L312.86 466.88 L314.28 466.66 L315.70 466.44 L317.12 466.21 L318.55 465.98 L319.99 465.74 L321.42 465.50 L322.86 465.26 L324.31 465.02 L325.76 464.77 L327.21 464.52 L328.67 464.27 L330.13 464.01 L331.60 463.76 L333.07 463.50 L334.55 463.24 L336.03 462.98 L337.51 462.72 L339.00 462.45 L340.49 462.19 L341.99 461.92 L343.49 461.66 L345.00 461.39 L346.51 461.13 L348.03 460.87 L349.55 460.60 L351.08 460.34 L352.61 460.08 L354.14 459.82 L355.29 459.63 L355.68 459.56 L357.23 459.31 L358.78 459.05 L360.34 458.80 L361.90 458.55 L363.46 458.30 L365.03 458.06 L366.61 457.82 L368.19 457.58 L369.77 457.34 L371.36 457.11 L372.96 456.89 L374.56 456.66 L376.17 456.45 L377.78 456.23 L379.39 456.02 L381.01 455.82 L382.64 455.62 L384.27 455.43 L385.90 455.24 L387.54 455.05 L389.19 454.88 L390.84 454.70 L392.49 454.54 L394.16 454.38 L395.82 454.22 L397.49 454.07 L399.17 453.93 L400.85 453.80 L402.53 453.67 L404.22 453.55 L405.92 453.43 L407.62 453.33 L409.32 453.22 L411.03 453.13 L412.74 453.04 L414.46 452.96 L416.19 452.89 L417.91 452.83 L419.65 452.77 L421.38 452.72 L423.13 452.67 L424.87 452.64 L426.62 452.61 L428.38 452.59 L430.14 452.57 L431.91 452.57 L433.67 452.57 L435.45 452.58 L437.23 452.60 L439.01 452.62 L440.80 452.65 L442.59 452.69 L444.38 452.74 L446.18 452.79 L447.99 452.85 L449.80 452.92 L451.61 453.00 L453.43 453.08 L455.25 453.17 L457.08 453.27 L458.91 453.37 L460.74 453.48 L462.58 453.60 L464.42 453.73 L466.27 453.86 L468.12 454.00 L469.97 454.15 L471.83 454.31 L473.69 454.47 M362.43 329.63 L363.65 329.99 L364.87 330.36 L366.10 330.72 L367.33 331.10 L368.56 331.47 L369.79 331.85 L371.02 332.23 L372.25 332.61 L373.48 332.99 L374.72 333.38 L375.95 333.78 L377.19 334.17 L378.43 334.57 L379.67 334.97 L380.91 335.37 L382.15 335.78 L383.40 336.19 L384.64 336.61 L385.89 337.03 L387.14 337.45 L388.38 337.87 L389.63 338.30 L390.88 338.74 L392.14 339.17 L393.39 339.61 L394.64 340.06 L395.90 340.51 L397.15 340.96 L398.41 341.42 L399.67 341.88 L400.93 342.34 L402.19 342.81 L403.45 343.29 L404.72 343.77 L405.98 344.25 L407.24 344.74 L408.51 345.23 L409.78 345.73 L411.04 346.23 L412.31 346.74 L413.58 347.25 L414.85 347.77 L415.80 348.16 L416.12 348.29 L417.40 348.82 L418.67 349.35 L419.94 349.89 L421.22 350.43 L422.49 350.98 L423.77 351.54 L425.05 352.10 L426.33 352.66 L427.60 353.23 L428.88 353.81 L430.16 354.39 L431.44 354.98 L432.72 355.57 L434.01 356.17 L435.29 356.78 L436.57 357.39 L437.86 358.01 L439.14 358.64 L440.42 359.27 L441.71 359.90 L443.00 360.55 L444.28 361.20 L445.57 361.85 L446.85 362.51 L448.14 363.18 L449.43 363.86 L450.72 364.54 L452.01 365.22 L453.29 365.92 L454.58 366.62 L455.87 367.32 L457.16 368.04 L458.45 368.76 L459.74 369.48 L461.03 370.21 L462.32 370.95 L463.61 371.70 L464.90 372.45 L466.19 373.20 L467.48 373.97 L468.77 374.74 L470.06 375.51 L471.35 376.30 L472.64 377.08 L473.93 377.88 L475.21 378.68 L476.50 379.48 L477.46 380.09 L477.81 380.03 L479.18 379.83 L480.55 379.63 L481.92 379.41 L483.30 379.19 L484.68 378.97 L486.06 378.74 L487.45 378.50 L488.84 378.26 L490.24 378.01 L491.63 377.76 L493.04 377.50 L494.44 377.24 L495.85 376.97 L497.26 376.70 L498.68 376.42 L500.10 376.14 L501.53 375.86 L502.96 375.56 L504.39 375.27 L505.83 374.97 L507.27 374.67 L508.71 374.36 L510.16 374.05 L511.61 373.74 L513.07 373.42 L514.53 373.10 L515.99 372.78 L517.46 372.45 L518.93 372.12 L520.40 371.79 L521.88 371.46 L523.37 371.12 L524.85 370.79 L526.34 370.45 L527.84 370.11 L529.34 369.77 L530.84 369.43 L532.35 369.09 L533.86 368.74 L535.37 368.40 L536.89 368.06 L538.41 367.71 L539.94 367.37 L541.47 367.03 L543.00 366.68 L544.54 366.34 L546.08 366.00 L547.62 365.66 L549.17 365.33 L550.72 364.99 L552.28 364.66 L553.84 364.33 L555.40 364.00 L556.96 363.67 L558.53 363.35 L560.11 363.03 L561.68 362.71 L563.26 362.39 L564.84 362.08 L566.43 361.78 L568.02 361.47 L569.61 361.17 L571.21 360.88 L572.81 360.59 L574.41 360.30 L576.02 360.02 L577.63 359.74 L579.24 359.47 L580.85 359.20 M223.82 434.95 L227.93 431.69 L232.01 428.46 L236.04 425.28 L240.04 422.13 L244.00 419.02 L247.93 415.95 L251.82 412.91 L255.67 409.91 L259.49 406.94 L263.27 404.01 L267.02 401.11 L270.74 398.25 L274.42 395.41 L278.07 392.61 L281.68 389.85 L285.27 387.11 L288.82 384.40 L292.34 381.73 L295.82 379.08 L299.28 376.46 L302.71 373.88 L306.10 371.32 L309.47 368.79 L312.81 366.28 L316.11 363.81 L319.39 361.36 L322.64 358.93 L325.86 356.53 L329.06 354.16 L332.22 351.81 L335.36 349.49 L338.47 347.19 L341.56 344.92 L344.62 342.66 L347.65 340.44 L350.65 338.23 L353.63 336.05 L356.59 333.88 L359.52 331.74 L362.43 329.63 M473.69 454.47 L477.10 451.25 L480.46 448.08 L483.78 444.97 L487.05 441.90 L490.28 438.88 L493.47 435.92 L496.62 432.99 L499.72 430.12 L502.79 427.29 L505.81 424.51 L508.80 421.77 L511.75 419.08 L514.65 416.43 L517.53 413.83 L520.36 411.26 L523.16 408.74 L525.93 406.26 L528.66 403.82 L531.35 401.42 L534.01 399.06 L536.64 396.74 L539.23 394.45 L541.80 392.21 L544.33 390.00 L546.82 387.83 L549.29 385.69 L551.73 383.59 L554.14 381.52 L556.52 379.48 L558.87 377.48 L561.19 375.52 L563.48 373.58 L565.74 371.68 L567.98 369.81 L570.19 367.97 L572.37 366.16 L574.53 364.37 L576.66 362.62 L578.77 360.90 L580.85 359.20" fill="none" stroke="#3a3a3c" stroke-width="0.8" stroke-opacity="0.8"/>
<line x1="205.47" y1="384.80" x2="477.10" y2="457.48" stroke="#787878" stroke-width="0.60"/>
<line x1="477.10" y1="457.48" x2="591.81" y2="335.59" stroke="#787878" stroke-width="0.60"/>
<path d="M224.01 456.24L227.60 453.63M234.80 459.50L236.85 457.99M245.72 462.80L247.75 461.27M256.76 466.14L258.77 464.59M267.93 469.51L269.92 467.94M279.23 472.92L282.67 470.15M290.65 476.37L292.60 474.76M302.21 479.86L304.14 478.24M313.90 483.39L315.81 481.75M325.73 486.96L327.62 485.30M337.69 490.57L340.96 487.64M349.80 494.23L351.65 492.53M362.06 497.93L363.88 496.21M374.46 501.67L376.26 499.93M387.00 505.46L388.78 503.70M399.70 509.29L402.77 506.18M412.56 513.18L414.29 511.37M425.57 517.11L427.28 515.28M438.75 521.08L440.43 519.24M452.09 525.11L453.74 523.24M465.59 529.19L468.42 525.88M473.94 527.74L468.01 525.95M480.27 520.26L476.90 519.26M486.45 512.95L483.11 511.97M492.49 505.80L489.18 504.85M498.40 498.81L495.12 497.88M504.18 491.97L498.49 490.37M509.84 485.28L506.61 484.38M515.38 478.73L512.18 477.85M520.80 472.31L517.62 471.46M526.11 466.04L522.96 465.20M531.31 459.89L525.84 458.45M536.40 453.86L533.30 453.06M541.39 447.96L538.31 447.18M546.28 442.18L543.22 441.41M551.07 436.51L548.04 435.75M555.77 430.95L550.51 429.66M560.38 425.50L557.40 424.77M564.90 420.16L561.94 419.44M569.33 414.91L566.39 414.21M573.68 409.77L570.76 409.08M577.95 404.72L572.89 403.54M219.28 453.59L223.97 455.01M218.45 449.46L221.14 450.27M217.62 445.29L220.32 446.10M216.77 441.09L219.48 441.89M215.92 436.85L218.64 437.64M215.06 432.56L219.85 433.96M214.19 428.24L216.94 429.04M213.32 423.88L216.07 424.67M212.43 419.48L215.20 420.27M211.54 415.04L214.32 415.82M210.64 410.55L215.53 411.93M209.73 406.03L212.54 406.81M208.82 401.46L211.63 402.24M207.89 396.85L210.72 397.62M206.95 392.19L209.79 392.96M206.01 387.49L211.01 388.83" fill="none" stroke="#5e5e5e" stroke-width="0.55"/>
</g>
<text transform="translate(200.60 388.25) scale(1.260 1)" font-family='"Liberation Sans", sans-serif' font-weight="bold" font-size="13.00" text-anchor="end" fill="#000">30</text>
<text transform="translate(204.80 411.65) scale(1.260 1)" font-family='"Liberation Sans", sans-serif' font-weight="bold" font-size="13.00" text-anchor="end" fill="#000">20</text>
<text transform="translate(210.00 433.25) scale(1.260 1)" font-family='"Liberation Sans", sans-serif' font-weight="bold" font-size="13.00" text-anchor="end" fill="#000">10</text>
<text transform="translate(213.50 454.05) scale(1.260 1)" font-family='"Liberation Sans", sans-serif' font-weight="bold" font-size="13.00" text-anchor="end" fill="#000">0</text>
<text transform="translate(205.50 470.25) scale(1.260 1)" font-family='"Liberation Sans", sans-serif' font-weight="bold" font-size="13.00" text-anchor="middle" fill="#000">−10</text>
<text transform="translate(266.00 487.65) scale(1.260 1)" font-family='"Liberation Sans", sans-serif' font-weight="bold" font-size="13.00" text-anchor="middle" fill="#000">−5</text>
<text transform="translate(330.50 505.25) scale(1.260 1)" font-family='"Liberation Sans", sans-serif' font-weight="bold" font-size="13.00" text-anchor="middle" fill="#000">0</text>
<text transform="translate(393.50 524.65) scale(1.260 1)" font-family='"Liberation Sans", sans-serif' font-weight="bold" font-size="13.00" text-anchor="middle" fill="#000">5</text>
<text transform="translate(457.00 544.65) scale(1.260 1)" font-family='"Liberation Sans", sans-serif' font-weight="bold" font-size="13.00" text-anchor="middle" fill="#000">10</text>
<text transform="translate(491.50 536.15) scale(1.260 1)" font-family='"Liberation Sans", sans-serif' font-weight="bold" font-size="13.00" text-anchor="middle" fill="#000">0.0</text>
<text transform="translate(521.00 500.65) scale(1.260 1)" font-family='"Liberation Sans", sans-serif' font-weight="bold" font-size="13.00" text-anchor="middle" fill="#000">0.5</text>
<text transform="translate(548.50 469.15) scale(1.260 1)" font-family='"Liberation Sans", sans-serif' font-weight="bold" font-size="13.00" text-anchor="middle" fill="#000">1.0</text>
<text transform="translate(573.00 439.65) scale(1.260 1)" font-family='"Liberation Sans", sans-serif' font-weight="bold" font-size="13.00" text-anchor="middle" fill="#000">1.5</text>
<text transform="translate(595.00 411.65) scale(1.260 1)" font-family='"Liberation Sans", sans-serif' font-weight="bold" font-size="13.00" text-anchor="middle" fill="#000">2.0</text>
<text transform="translate(318.00 518.15) scale(1.260 1)" font-family='"Liberation Sans", sans-serif' font-weight="bold" font-size="13.00" text-anchor="middle" fill="#000">x</text>
<text transform="translate(566.00 475.15) scale(1.260 1)" font-family='"Liberation Sans", sans-serif' font-weight="bold" font-size="13.00" text-anchor="middle" fill="#000">t</text>
<text transform="translate(100.00 414.80) scale(1.210 1)" font-family='"Liberation Sans", sans-serif' font-weight="bold" font-size="12.70" fill="#000" stroke="#000" stroke-width="0.2"><tspan x="2.27">|</tspan><tspan x="18.18" dy="2.9" font-size="10.6">3</tspan><tspan x="28.84" dy="-2.9">(</tspan><tspan x="35.41">x,</tspan><tspan x="47.19">t)</tspan><tspan x="59.30">|</tspan></text>
<text transform="translate(111.2 416.4) scale(1.4 1)" font-family='"Liberation Serif", "DejaVu Serif", serif' font-weight="bold" font-style="italic" font-size="13.8" fill="#000">R</text>
</svg>
</body></html>
